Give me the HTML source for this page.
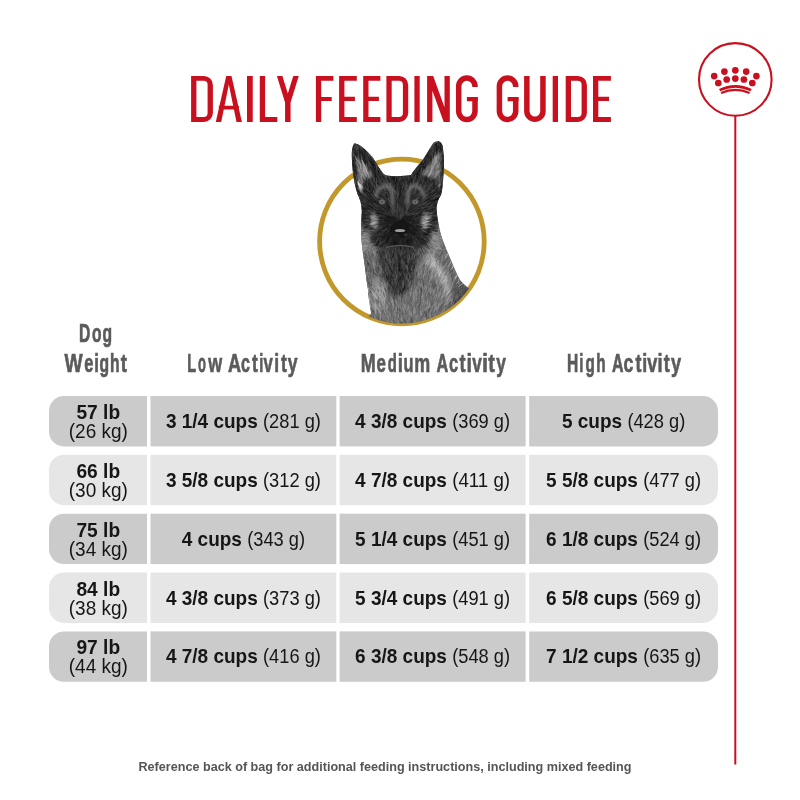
<!DOCTYPE html>
<html><head><meta charset="utf-8"><style>
html,body{margin:0;padding:0;background:#fff;}
svg{display:block;will-change:transform;}
text{font-family:"Liberation Sans", sans-serif;}
</style></head><body>
<svg width="800" height="800" viewBox="0 0 800 800">
<rect width="800" height="800" fill="#fff"/>
<path fill="#c9101f" d="M191.10,75.90H203.90A9.0,9.0 0 0 1 212.90,84.90V112.90A9.0,9.0 0 0 1 203.90,121.90H191.10ZM196.40,80.75V117.05H203.60A4.0,4.0 0 0 0 207.60,113.05V84.75A4.0,4.0 0 0 0 203.60,80.75ZM215.80,121.90L226.23,75.90H231.48L241.90,121.90H236.50L228.85,84.40L221.20,121.90ZM218.80,105.70h20.10v3.90h-20.10ZM247.00,75.90h5.75v46.00h-5.75ZM259.80,75.90h5.30v46.00h-5.30ZM259.80,117.05h17.50v4.85h-17.50ZM276.90,75.90H282.40L290.57,102.50H285.07ZM293.25,75.90H298.75L290.57,102.50H285.07ZM285.07,102.00h5.50v19.90h-5.50ZM315.90,75.90h5.30v46.00h-5.30ZM315.90,75.90h17.50v4.85h-17.50ZM315.90,96.90h15.80v4.20h-15.80ZM339.10,75.90h5.30v46.00h-5.30ZM339.10,75.90h17.70v4.85h-17.70ZM339.10,96.70h15.80v4.20h-15.80ZM339.10,117.05h17.70v4.85h-17.70ZM363.20,75.90h5.30v46.00h-5.30ZM363.20,75.90h17.20v4.85h-17.20ZM363.20,96.70h15.70v4.20h-15.70ZM363.20,117.05h17.20v4.85h-17.20ZM386.40,75.90H399.20A9.0,9.0 0 0 1 408.20,84.90V112.90A9.0,9.0 0 0 1 399.20,121.90H386.40ZM391.70,80.75V117.05H398.90A4.0,4.0 0 0 0 402.90,113.05V84.75A4.0,4.0 0 0 0 398.90,80.75ZM414.40,75.90h5.30v46.00h-5.30ZM427.10,75.90h5.30v46.00h-5.30ZM444.50,75.90h5.30v46.00h-5.30ZM427.10,75.90H433.20L449.80,121.90H443.70ZM466.90,96.90h10.90v4.40h-10.90ZM507.60,96.90h10.90v4.40h-10.90ZM552.70,75.90h5.30v46.00h-5.30ZM565.70,75.90H577.90A9.0,9.0 0 0 1 586.90,84.90V112.90A9.0,9.0 0 0 1 577.90,121.90H565.70ZM571.00,80.75V117.05H577.60A4.0,4.0 0 0 0 581.60,113.05V84.75A4.0,4.0 0 0 0 577.60,80.75ZM593.00,75.90h5.30v46.00h-5.30ZM593.00,75.90h17.90v4.85h-17.90ZM593.00,96.70h16.00v4.20h-16.00ZM593.00,117.05h17.90v4.85h-17.90Z"/><path fill="none" stroke="#c9101f" stroke-width="5.5" d="M475.00,86.90V86.25A8.15,8.15 0 0 0 466.85,78.10A8.15,8.15 0 0 0 458.70,86.25V111.35A8.15,8.15 0 0 0 466.85,119.50A8.15,8.15 0 0 0 475.00,111.35V96.90M515.70,86.90V86.25A8.15,8.15 0 0 0 507.55,78.10A8.15,8.15 0 0 0 499.40,86.25V111.35A8.15,8.15 0 0 0 507.55,119.50A8.15,8.15 0 0 0 515.70,111.35V96.90M526.85,75.90V111.20A8.05,8.05 0 0 0 534.90,119.25A8.05,8.05 0 0 0 542.95,111.20V75.90"/>

<line x1="735.3" y1="115" x2="735.3" y2="764.6" stroke="#c9101f" stroke-width="2"/>
<circle cx="735.3" cy="79.45" r="36.3" fill="#fff" stroke="#c9101f" stroke-width="2.1"/>
<g fill="#c9101f">
<circle cx="714.2" cy="76.1" r="3.35"/><circle cx="724.4" cy="71.6" r="3.35"/><circle cx="735.3" cy="70.3" r="3.35"/><circle cx="746.2" cy="71.6" r="3.35"/><circle cx="756.4" cy="76.1" r="3.35"/>
<circle cx="718.3" cy="83" r="3.35"/><circle cx="726.7" cy="79.5" r="3.35"/><circle cx="735.3" cy="78.6" r="3.35"/><circle cx="743.9" cy="79.5" r="3.35"/><circle cx="752.3" cy="83" r="3.35"/>
</g>
<path d="M719.6,90.2 Q735.4,82.5 751.1,90.2" fill="none" stroke="#c9101f" stroke-width="2.6"/>
<path d="M721.1,93.0 Q735.4,86.8 749.6,93.0" fill="none" stroke="#c9101f" stroke-width="2.1"/>

<defs>
<clipPath id="ringclip"><path d="M300,100 H483.9 V241.5 A82,82 0 0 1 319.9,241.5 V100 Z"/></clipPath>
<clipPath id="dogclip"><path d="M354.6,143.2 C358,144 360,145 362.9,147.4 C366,150 370,154 372.5,157 C376,162 379,168 382.1,172.1 C383,174 385,175 386.3,175.6 C390,176.2 394,176.3 397.3,176.3 C402,176.2 407,175.5 411,175 C414,170 418,165 422,161 C426,155 430,148 433,143.2 C435,141.5 437,141 438.5,141.2 C441,142 442,144 442.6,146 C443.5,152 444,158 444,162.5 C444,168 443.8,172 443.3,176.2 C443,183 442.5,190 441,195 C438,199 436.5,204 436.5,210 C437.5,220 439.5,230 442,238 C445,246 448,253 450.8,259.5 C454,267 457,275 460.5,280.6 C462.5,283 465,285.5 467,287 L490,300 L490,340 L350,340 L371.1,313.1 C369.5,305 368.5,297 367.9,288.8 C366.5,280 365.5,272 364.6,264.4 C363.5,256 362,248 361.4,240 C360.8,231 361,221 361.8,211 C361.5,204 360,199 357.5,194 C355,186 353.2,177 352.6,169.4 C352,163 351.6,157 351.9,151.5 C352.2,148 353,145 354.6,143.2 Z"/></clipPath>
<filter id="bl1" x="-50%" y="-50%" width="200%" height="200%"><feGaussianBlur stdDeviation="1.2"/></filter>
<filter id="bl2" x="-50%" y="-50%" width="200%" height="200%"><feGaussianBlur stdDeviation="2.5"/></filter>
<filter id="bl2s" x="-50%" y="-50%" width="200%" height="200%"><feGaussianBlur stdDeviation="1.6"/></filter>
<filter id="bl05" x="-50%" y="-50%" width="200%" height="200%"><feGaussianBlur stdDeviation="0.6"/></filter>
</defs>
<circle cx="401.9" cy="241.5" r="82.3" fill="none" stroke="#c3982b" stroke-width="4.8"/>
<g clip-path="url(#ringclip)">
<g clip-path="url(#dogclip)">
<rect x="340" y="130" width="150" height="210" fill="#6e6e6e"/>
<path d="M355,235 C362,250 372,262 380,275 L372,300 L355,300 Z" fill="#5e5e5e" filter="url(#bl2)"/>
<!-- ears dark -->
<path d="M350,138 L366,149 L388,178 L372,186 L362,202 L347,192 Z" fill="#2a2a2a" filter="url(#bl1)"/>
<path d="M446,136 L432,145 L408,178 L428,186 L440,202 L449,190 Z" fill="#2a2a2a" filter="url(#bl1)"/>
<!-- ear interiors -->
<path d="M357,157 C362,163 369,170 374,177 C371,182 367,187 362,191 C359,181 357,170 357,157 Z" fill="#7c7c7c" filter="url(#bl1)"/>
<path d="M440,151 C440,164 440,177 439,189 C433,185 427,180 421,175 C427,167 434,159 440,151 Z" fill="#7c7c7c" filter="url(#bl1)"/>
<path d="M357,182 C359,188 361,193 364,197 L370,192 C366,188 361,184 357,182 Z" fill="#d4d4d4" filter="url(#bl05)"/>
<path d="M441,183 C439,189 437,193 434,197 L428,192 C433,188 437,185 441,183 Z" fill="#d4d4d4" filter="url(#bl05)"/>
<path d="M362,160 C365,168 368,174 370,180" stroke="#a8a8a8" stroke-width="1.2" fill="none" filter="url(#bl05)"/>
<path d="M437,158 C434,166 431,172 428,178" stroke="#a8a8a8" stroke-width="1.2" fill="none" filter="url(#bl05)"/>
<!-- head dark base -->
<path d="M364,180 C380,173 420,173 438,180 C441,196 441,212 438,226 C434,240 422,252 400,253 C378,252 366,240 362,226 C359,212 361,196 364,180 Z" fill="#2c2c2c" filter="url(#bl1)"/>
<!-- lower head sides whitish -->
<ellipse cx="366" cy="240" rx="5" ry="11" fill="#8e8e8e" filter="url(#bl2)"/>
<ellipse cx="435" cy="240" rx="5" ry="11" fill="#8e8e8e" filter="url(#bl2)"/>
<!-- cheeks tan -->
<ellipse cx="374.5" cy="221" rx="3.2" ry="9" fill="#969696" transform="rotate(-8 374.5 221)" filter="url(#bl1)"/>
<ellipse cx="424.5" cy="221" rx="3.2" ry="9" fill="#969696" transform="rotate(8 424.5 221)" filter="url(#bl1)"/>
<!-- nose bridge -->
<path d="M393,205 C394,212 393,218 391,224" stroke="#555" stroke-width="2" fill="none" filter="url(#bl1)"/>
<path d="M407,205 C406,212 407,218 409,224" stroke="#555" stroke-width="2" fill="none" filter="url(#bl1)"/>
<!-- muzzle darkest -->
<path d="M388,216 C395,214 405,214 412,216 C416,226 417,236 414,243 C410,247 390,247 386,243 C383,236 384,226 388,216 Z" fill="#1a1a1a" filter="url(#bl1)"/>
<ellipse cx="400" cy="213" rx="4.5" ry="6" fill="#3c3c3c" filter="url(#bl1)"/>
<!-- center forehead stripe -->
<path d="M400,178 V204" stroke="#161616" stroke-width="4" filter="url(#bl1)"/>
<!-- neck dark center -->
<path d="M378,248 C376,262 382,280 390,294 C398,300 410,292 414,276 C418,262 420,252 420,248 Z" fill="#383838" filter="url(#bl2)"/>
<!-- neck light right streak -->
<path d="M424,258 C436,270 444,284 450,302 L457,298 C451,282 443,266 431,252 Z" fill="#ababab" filter="url(#bl2)"/>
<ellipse cx="378" cy="295" rx="8" ry="18" fill="#8c8c8c" filter="url(#bl2)"/>
<path d="M454,280 L472,288 L472,330 L448,330 Z" fill="#505050" filter="url(#bl2)"/>
<g stroke-linecap="round" fill="none" stroke-width="0.7" clip-path="url(#dogclip)">
<path stroke="rgb(6,6,6)" stroke-opacity="0.65" d="M379.5 242.5L376.6 246.0M366.9 194.4L363.3 190.1M378.3 183.1L377.6 178.3M380.1 174.4L378.7 171.6M383.5 211.6L379.4 210.6M435.4 147.7L435.9 144.4M407.3 258.5L406.5 264.1M436.7 194.4L438.4 192.0M396.0 225.3L391.7 229.3M364.1 186.0L364.2 183.3M366.1 162.4L363.8 157.1M369.3 189.1L368.0 186.7M421.6 176.9L422.2 171.2M398.2 180.9L397.5 177.3M366.4 208.9L363.4 207.3M357.6 153.3L357.1 150.6M410.8 236.0L412.0 239.7M421.3 164.5L423.8 160.0M394.9 193.8L393.9 190.7M367.9 156.0L367.6 151.5M368.1 207.8L365.3 205.9M396.7 280.7L398.6 286.1M426.9 231.7L430.9 231.8M355.0 171.1L354.5 168.5M370.1 163.7L370.2 160.1M400.7 186.3L399.8 182.0M420.5 234.5L423.3 235.9M426.8 186.3L428.4 183.6M437.1 199.9L440.3 199.1M362.2 219.9L356.6 218.4M379.3 231.3L376.6 231.8M364.4 212.1L359.8 209.1M424.1 233.2L427.2 235.0M373.9 168.4L372.8 164.2M371.0 196.3L367.6 194.6M401.1 268.9L402.6 274.4M399.2 268.1L398.8 270.6M416.3 237.0L419.1 240.4M427.3 180.4L429.1 177.4M373.6 206.6L371.2 206.0M362.2 155.4L361.9 151.5M379.8 241.4L378.4 244.2M408.7 184.7L410.7 179.0M423.4 164.7L425.3 161.3M380.3 230.9L377.8 231.7M425.5 242.9L428.7 247.9M386.0 192.6L383.2 189.3M414.3 233.5L416.6 234.9M431.9 183.3L433.4 180.3M395.8 268.4L395.1 274.1M429.8 184.9L430.4 181.3M376.4 177.8L374.9 172.6M397.6 278.7L399.0 284.0M403.5 234.4L404.1 238.2M378.9 175.0L376.5 171.3M387.8 239.1L385.6 243.5M413.6 219.0L417.5 216.9M364.1 207.6L360.7 206.1M407.3 238.9L407.8 244.4M399.6 270.5L401.8 275.8M391.1 284.2L390.5 288.2M399.6 227.0L400.8 231.4M391.9 224.2L387.5 226.6M417.3 182.2L419.0 178.5M434.2 219.9L436.8 220.3M420.3 212.8L423.3 210.1M393.4 180.8L393.1 175.6M357.0 151.1L354.9 147.9M425.4 161.0L425.8 156.5M371.7 230.6L368.6 232.6M359.3 154.7L359.2 150.0M416.8 178.3L417.6 173.2M353.7 167.2L351.8 161.9M378.7 235.4L375.0 239.0M401.7 273.3L401.2 276.5M394.5 184.9L393.2 179.2M374.0 192.5L370.8 190.2M379.6 169.4L378.5 163.6M422.3 240.6L425.8 242.8M383.6 236.8L381.1 240.4M429.1 217.7L434.6 216.6M391.7 276.7L393.6 281.2M399.9 243.9L400.5 249.3M397.6 182.7L397.9 178.5M386.5 273.1L386.5 278.5M408.3 211.9L410.1 209.0M430.2 193.7L433.0 191.8M402.7 176.1L404.6 171.1M397.8 265.6L399.8 270.9M360.3 195.6L355.6 193.2M372.5 180.5L372.0 175.6M411.0 183.0L411.8 178.8M380.1 197.1L378.6 193.6M414.2 228.7L417.4 231.7M367.1 227.5L363.2 228.1M401.1 271.6L402.5 275.9M394.5 217.7L390.9 214.3M388.9 235.7L387.6 238.9M384.9 208.5L382.7 207.3M414.6 235.0L419.1 237.4M381.2 218.8L377.3 219.3M379.8 178.7L379.9 175.2M433.3 189.4L435.4 185.0M376.7 202.1L372.2 199.9M392.2 233.8L389.1 237.6M391.2 241.3L389.7 246.9M431.6 222.0L435.3 222.9M427.0 158.9L428.7 154.9M414.8 223.6L418.5 224.1M433.7 212.3L436.9 210.3M440.8 151.0L440.4 145.9M377.8 180.7L375.2 175.7M419.5 165.5L421.1 162.8M434.4 193.8L438.5 191.2M398.8 254.6L399.2 260.4M378.0 175.6L375.6 172.0M375.9 179.5L375.3 176.4M354.9 150.4L352.5 145.6M396.0 232.1L395.5 235.8M369.7 202.5L366.1 200.0M375.3 238.8L370.8 242.2M418.7 175.4L419.0 172.7M358.9 192.3L355.2 188.2M354.6 176.9L351.8 173.3M429.9 194.6L434.1 192.6M395.9 184.0L395.1 178.2M386.2 268.2L387.0 273.3M398.7 194.0L400.2 189.3M406.2 252.4L406.1 255.0M440.0 194.8L444.0 190.6M379.9 241.4L375.2 245.0M359.9 191.4L355.7 189.4M422.1 231.1L426.2 232.0M435.6 150.4L437.1 146.6M386.5 197.3L385.0 191.7M378.2 234.5L374.9 236.0M390.2 176.1L388.1 172.5M409.5 245.5L410.3 249.8M408.9 225.0L412.9 225.5M390.9 275.1L392.5 279.2M420.5 241.3L423.0 242.6M421.5 209.8L425.0 207.3M400.6 176.5L401.4 171.1M396.0 183.0L397.0 178.4M373.1 237.1L369.4 238.4M443.4 164.7L444.6 162.1M370.3 198.8L368.3 196.3M359.2 193.4L354.0 190.8M411.4 216.2L416.2 214.2M393.9 228.1L389.6 231.2M442.6 158.9L443.2 155.5M435.0 199.8L438.2 198.3M426.6 229.1L429.7 230.5M441.7 189.8L442.2 186.9M376.8 199.9L373.6 195.5M431.4 201.6L434.8 200.3M373.1 165.1L373.0 161.4M374.5 169.7L374.1 164.7M356.5 156.4L354.7 152.5M394.7 273.0L394.9 278.7M432.5 182.5L432.6 177.5M359.7 150.6L359.7 147.1M390.8 208.8L389.5 206.1M400.3 177.4L400.9 172.3M435.8 185.6L438.6 181.6M394.4 240.7L393.4 245.7M441.3 188.4L444.3 183.2M424.7 202.3L427.8 199.2M410.0 229.9L412.2 231.8M440.1 148.3L442.0 144.5M437.0 187.4L437.8 183.9M378.5 186.2L376.9 180.7M386.3 220.1L381.4 221.1M397.1 202.7L394.7 197.6M404.3 242.2L404.8 244.7M380.6 204.8L378.4 202.9M433.0 193.8L436.1 191.5M376.0 181.4L376.1 178.7M356.1 176.9L353.4 172.9M375.4 235.3L372.7 236.2M370.6 200.0L367.9 197.6M379.6 170.6L379.3 167.7M396.5 178.3L396.1 173.3M400.8 244.3L400.0 249.4M393.2 247.3L391.8 252.6M373.5 199.7L370.7 198.1M401.9 189.4L402.0 184.6M363.1 224.6L360.1 224.4M436.5 152.8L436.9 148.9M364.9 191.2L361.5 189.3M374.0 184.7L371.1 179.6M420.2 199.9L421.8 197.0M419.9 178.5L420.3 175.5M371.4 201.7L368.6 200.4M405.4 187.2L405.2 183.3M431.7 217.2L437.2 216.7M392.6 217.1L388.7 215.8M371.6 159.7L369.8 156.2M414.0 175.8L416.0 171.5M375.3 241.4L371.1 243.0M372.1 203.2L368.7 201.9M388.5 274.1L387.6 279.8M367.4 189.2L367.0 186.6M415.6 181.0L416.9 177.7M389.6 240.2L387.9 242.2M385.0 259.9L386.5 262.4M353.8 161.8L353.7 156.5M387.2 196.3L386.2 193.5M423.3 233.6L428.8 235.0M400.4 185.6L399.9 181.1M362.4 207.5L359.8 205.5M379.2 239.9L376.3 244.6M365.5 208.2L360.1 207.9M436.6 225.5L439.7 225.8M427.4 185.1L427.8 182.2M372.5 207.6L367.5 205.6M381.0 179.9L380.1 176.0M432.5 220.3L437.1 218.4M399.1 218.9L399.2 213.1M389.4 264.8L390.7 267.9M377.9 211.0L372.8 209.2M437.7 199.0L442.0 195.3M396.4 262.4L396.0 268.3M369.8 194.1L366.4 190.3M364.4 214.8L359.2 214.3M368.3 201.1L365.8 200.3M421.8 229.7L425.0 229.9M433.2 220.4L436.5 219.1M396.0 268.5L395.6 274.1M441.0 148.9L442.9 144.9M433.8 201.0L438.3 198.2M366.8 197.8L363.2 194.7M362.7 201.4L359.6 197.9M400.1 269.7L399.4 273.9M386.7 192.1L384.3 189.2M358.7 147.6L357.0 144.3M407.3 178.5L407.2 174.2M401.7 220.3L404.3 215.3M393.0 250.3L392.6 255.9M436.1 217.8L441.7 216.5M419.5 215.2L422.8 213.9M372.2 200.5L368.8 198.8M419.3 171.3L421.3 166.2M380.2 172.1L378.6 167.9M368.0 196.9L365.1 195.9M432.6 186.6L434.7 182.0M365.5 216.2L362.9 216.0M425.8 202.4L431.4 200.4M422.7 170.4L425.6 165.3M378.9 203.8L375.8 201.3M369.0 186.0L368.7 181.7M432.7 151.1L433.9 148.2M382.0 221.1L379.7 220.1M393.3 187.2L392.5 184.4M421.4 203.6L423.7 200.2M378.4 213.4L375.7 213.1M367.0 225.7L363.9 226.7M404.0 248.6L403.9 251.4M431.4 218.3L435.0 218.0M408.2 237.7L410.2 242.7M408.9 264.6L408.0 269.7M426.4 161.0L428.7 155.8M408.0 182.9L408.1 179.7M365.0 218.0L361.5 217.8M373.2 165.4L371.6 162.3M388.4 217.0L384.7 215.3M420.6 242.0L422.8 244.4M398.3 202.8L396.8 199.4M406.6 182.3L405.8 177.6M418.8 225.8L422.5 227.5M392.9 257.6L394.0 260.2M364.0 203.5L360.9 203.1M400.4 191.7L400.4 188.1M401.9 176.0L402.2 173.0M426.7 207.3L431.0 204.3M420.1 180.6L422.5 175.7M394.5 277.7L394.4 283.4M364.1 197.1L360.4 194.5M386.4 194.1L384.0 191.7M376.7 176.6L374.5 171.5M385.2 233.9L382.4 237.9M400.7 236.6L400.1 240.1M370.3 206.0L366.2 203.9M413.7 216.4L417.4 216.2M420.6 216.1L423.5 215.7M399.8 265.6L400.1 269.3M412.9 219.0L418.1 217.3M399.7 198.1L399.7 194.7M434.3 202.3L437.6 201.6M354.8 162.4L354.4 158.2M421.0 183.5L421.3 180.4M376.8 244.4L373.9 246.1M411.3 263.6L411.5 267.6M441.3 147.9L443.0 143.3M370.0 189.5L367.0 185.0M365.3 211.8L361.7 210.3M373.8 180.1L372.8 176.6M377.4 203.3L374.9 199.8M417.3 233.6L421.2 235.2M402.8 183.0L402.9 180.2M421.8 203.1L424.7 199.9M364.7 155.3L363.2 150.4M420.2 209.5L424.5 208.3M374.8 171.5L374.9 168.2M377.4 184.9L377.6 179.7M362.4 220.4L358.0 219.2M389.8 209.3L386.3 206.4M381.5 240.3L379.5 242.4M384.4 193.4L382.4 190.8M404.8 211.0L406.3 206.5M369.6 205.9L365.0 203.9M383.4 241.4L381.9 244.0M416.9 176.7L417.1 171.9M425.7 157.2L426.3 152.8M421.9 168.1L422.1 162.5M380.0 176.3L378.4 171.2M392.5 253.6L392.5 257.0M428.5 199.6L432.1 197.7M409.0 210.5L411.8 207.8M376.3 166.7L376.4 163.3M383.7 230.7L380.8 233.9M367.3 181.8L366.4 177.6M436.0 190.1L437.8 188.1M375.0 182.4L372.5 178.7M400.2 278.3L399.2 282.5M387.1 181.3L386.7 177.1M421.8 238.7L425.2 241.7M437.1 194.4L440.7 191.4M412.4 173.5L412.9 168.3M365.2 197.9L361.4 193.6M426.6 211.6L430.6 211.4M419.6 207.9L425.1 205.7M372.9 203.2L369.0 200.6M363.1 223.2L358.6 224.4M396.1 241.8L395.3 247.3M374.2 183.8L372.2 179.4M383.5 243.5L380.7 246.5M377.2 215.4L372.0 214.7M407.5 224.3L410.2 224.2M369.1 197.0L364.7 193.6M380.3 214.4L376.3 211.1M379.6 243.5L377.3 245.6M422.8 202.5L426.2 201.0M391.7 257.6L392.8 260.9M436.1 205.5L438.8 203.0M429.2 151.4L430.2 148.3M413.5 175.2L415.1 171.3M425.2 208.3L430.6 207.4M387.1 203.8L384.3 199.4M368.8 208.9L363.9 207.7M406.7 253.6L407.3 256.2M411.2 232.4L414.0 237.0M363.8 213.3L358.9 210.2M417.3 237.0L420.0 239.0M375.5 169.0L373.6 164.3M423.8 180.3L426.6 176.0M392.5 256.5L391.9 260.6M367.1 192.5L363.8 187.6M402.0 234.6L402.9 237.3M393.5 229.5L390.0 233.0M424.8 203.7L429.4 202.1M371.9 198.0L368.8 195.3M413.4 193.5L414.4 187.8M419.3 166.8L421.4 161.7M385.6 218.5L380.2 217.5M360.8 157.8L360.4 151.9M426.8 164.4L427.4 160.4M353.8 152.8L351.8 149.5M373.0 189.8L371.7 186.9M404.6 258.9L405.5 263.3M389.7 266.6L389.9 269.2M354.8 167.6L353.2 165.0M359.4 196.3L357.2 194.6M414.5 252.2L415.3 257.7M412.1 238.7L415.9 241.4M354.1 146.4L353.1 142.0M438.0 143.9L439.3 140.6M395.4 184.8L396.4 178.9M389.3 207.7L387.7 203.6M353.1 146.5L353.1 143.3M441.4 145.0L443.1 140.6M434.6 187.2L435.2 182.5M385.4 236.0L383.1 237.2M395.5 269.5L394.9 272.0M413.5 191.2L415.2 187.6M415.7 225.8L419.4 228.2M384.1 192.3L383.2 189.4M389.5 194.8L386.7 191.0M363.6 216.8L359.6 215.1M367.8 185.5L367.6 180.5M430.2 202.4L432.3 199.8M429.6 216.5L432.6 215.6M400.7 195.3L401.1 189.7M397.4 183.4L396.8 180.5M400.7 264.3L401.4 267.8M407.3 261.7L406.8 266.7M431.7 216.0L434.5 215.9M361.0 151.6L358.8 147.7M423.9 170.8L423.8 165.9M388.5 179.3L386.1 175.4M389.4 248.2L388.9 253.1M388.5 220.7L385.2 219.6M399.1 263.0L398.8 266.7M390.5 182.4L387.6 177.7M426.2 179.0L426.8 176.6M436.8 146.2L436.9 143.5M377.1 241.3L375.1 244.4M373.9 166.6L371.6 162.0M374.8 162.7L373.0 159.7M364.0 157.4L362.6 155.0M376.2 204.0L371.8 201.4M420.5 178.5L421.2 175.9M378.1 246.2L376.4 249.2M415.0 193.6L418.4 190.0M437.5 145.6L439.3 140.4M361.8 158.0L359.6 153.5M434.7 213.9L439.4 211.5M443.9 171.7L444.9 168.5M392.1 181.5L392.4 177.7M401.7 221.5L405.6 220.1M411.4 230.5L414.6 232.6M430.5 217.8L435.4 217.4M435.1 144.3L434.7 140.3M395.0 177.7L395.0 172.4M380.4 236.3L375.8 239.6M358.5 155.2L358.0 150.4M418.2 192.9L419.9 189.3M417.5 210.5L421.1 208.5M384.8 227.8L382.1 228.5M364.5 195.2L362.2 193.2M404.9 248.0L404.7 253.0M392.0 253.0L393.6 256.3M364.5 210.3L359.5 209.0M425.7 181.6L425.9 177.3"/>
<path stroke="rgb(18,18,18)" stroke-opacity="0.65" d="M388.6 210.4L384.5 208.4M410.4 181.2L410.3 176.9M426.8 157.8L427.5 155.4M431.9 227.9L436.8 230.0M427.1 238.9L430.4 241.6M366.2 214.5L361.9 214.5M420.9 226.4L425.3 226.4M411.3 270.7L411.3 274.8M368.4 197.9L364.9 195.3M415.0 189.4L415.7 186.9M407.7 258.7L407.1 262.7M398.0 277.0L398.0 281.9M378.3 217.8L374.7 218.2M412.3 175.3L413.8 171.6M435.9 199.9L440.8 196.4M358.0 185.9L357.1 183.2M388.4 281.4L389.4 285.2M409.8 274.5L408.7 280.3M397.0 293.2L396.9 297.4M401.8 254.7L401.1 257.3M438.0 143.9L438.7 140.5M376.2 183.9L375.5 180.9M369.3 165.3L368.2 162.8M394.7 281.4L393.8 285.6M409.5 263.8L410.3 267.4M410.2 175.4L409.7 171.5M384.6 223.6L380.3 224.1M415.9 265.3L416.4 269.7M433.9 182.2L435.0 178.6M395.4 193.2L393.8 189.2M403.7 288.3L402.1 293.7M371.1 201.1L366.3 199.7M376.8 239.1L372.1 242.9M365.8 198.6L363.5 196.6M391.3 268.8L392.4 272.6M418.1 171.2L420.2 167.6M425.7 210.1L428.7 209.4M396.3 270.0L396.6 273.0M414.5 189.2L415.1 184.1M373.2 176.2L372.7 170.7M367.1 165.6L365.6 163.4M413.0 173.3L412.8 169.0M428.3 163.7L429.6 159.6M395.3 280.4L396.7 283.5M378.4 199.0L375.1 194.7M385.6 190.4L384.2 187.6M413.5 211.9L415.5 209.4M432.9 210.1L437.1 209.7M401.1 290.1L400.6 293.1M426.0 211.9L429.2 209.8M387.2 269.1L388.3 273.0M425.2 232.4L428.0 233.9M391.4 251.9L390.6 257.4M396.2 282.4L397.9 288.1M407.4 187.4L408.8 185.0M406.9 179.7L408.2 174.4M356.4 177.5L354.5 174.9M433.5 205.0L439.1 202.8M424.6 243.7L429.1 247.5M423.7 204.8L426.0 203.5M397.3 284.2L396.9 286.7M428.1 225.8L432.3 226.0M356.9 169.7L356.0 166.6M389.9 200.5L388.5 196.2M410.5 196.3L412.6 191.8M441.0 183.7L441.2 180.7M434.7 147.4L436.2 143.4M418.6 185.8L418.7 182.8M428.6 190.4L431.4 185.5M411.1 243.5L412.1 246.2M395.3 288.6L396.5 291.6M428.5 210.5L433.8 208.9M408.1 182.8L408.8 178.7M409.4 269.3L410.3 274.6M393.9 183.8L394.8 178.3M354.5 170.2L353.8 166.5M416.5 229.7L420.8 230.1M410.3 212.7L412.8 211.7M424.2 245.9L428.7 249.0M430.7 161.4L432.1 155.7M407.6 259.3L406.6 261.9M401.9 274.9L401.8 279.7M390.7 268.5L391.6 273.8M412.3 264.9L412.9 268.7M411.2 271.9L411.5 274.9M425.9 205.9L429.6 204.9M369.4 167.5L368.1 165.3M395.6 190.3L396.0 185.6M415.3 182.2L416.8 177.0M428.7 153.8L429.7 149.2M420.4 227.3L424.1 228.9M432.3 213.5L437.3 213.4M398.2 246.8L397.2 249.8M412.2 182.6L413.9 176.9M369.9 226.0L365.5 226.5M371.1 160.7L370.3 156.0M406.4 176.3L406.0 170.9M383.7 263.9L387.0 269.0M442.3 160.6L443.8 155.7M436.8 189.7L436.5 186.1M380.6 197.5L376.9 193.5M399.0 264.7L400.6 268.8M369.7 217.2L366.4 215.8M428.2 183.1L429.2 180.3M416.9 219.2L419.2 218.0M394.6 290.3L394.6 294.3M356.0 156.3L355.3 153.0M375.2 233.6L370.8 235.1M432.4 229.4L436.1 231.4M393.5 275.6L393.7 278.7M422.1 239.1L425.2 242.0M400.7 219.5L401.8 217.0M363.1 203.7L359.0 200.8M353.5 161.8L352.1 159.7M363.1 223.8L360.4 223.2M442.9 168.9L444.8 165.6M421.0 205.5L423.8 204.1M374.8 166.7L374.2 160.9M372.7 232.8L369.7 233.3M423.4 166.6L424.4 163.3M416.1 263.3L414.8 267.2M405.9 254.8L405.8 260.1M414.3 193.9L414.8 190.4M414.8 224.8L417.7 225.7M385.0 270.6L386.1 275.4M435.5 220.7L440.9 219.1M399.3 274.1L400.9 279.3M400.8 268.7L402.3 273.6M408.8 275.3L408.3 279.4M439.1 145.4L440.0 140.6M410.8 254.0L411.0 258.4M374.9 170.9L373.7 165.4M380.0 214.0L375.5 211.2M386.9 191.7L385.6 186.5M365.4 192.1L362.9 190.7M390.8 204.0L388.5 198.8M383.4 192.1L380.5 189.2M427.4 153.6L428.1 148.5M370.1 220.5L366.0 220.7M368.9 188.8L368.6 184.1M415.7 169.4L417.6 166.0M369.2 196.5L364.6 193.1M437.5 185.2L438.0 181.2M379.8 203.4L375.1 200.6M410.1 196.6L411.9 192.1M383.2 273.7L383.6 276.8M430.0 201.6L432.3 200.0M400.2 194.0L399.0 190.8M391.4 280.1L392.7 282.7M393.2 280.8L393.0 283.9M364.6 188.2L363.9 183.8M382.3 251.0L384.4 254.4M443.4 162.1L445.3 156.9M383.2 177.9L381.2 172.4M373.6 180.6L372.1 177.1M374.4 236.1L369.5 238.4M372.7 202.0L368.9 199.0M427.3 193.8L431.4 191.2M383.9 264.3L384.4 268.6M379.8 253.2L381.1 256.1M431.8 157.4L432.9 153.7M389.2 282.3L390.9 285.6M391.5 280.8L390.5 286.3M425.9 238.3L428.2 240.1M403.1 254.2L402.8 258.5M403.3 287.5L403.4 290.7M384.3 255.7L385.4 258.8M405.0 179.6L404.8 175.8M400.9 182.6L399.3 177.7M421.5 162.7L422.6 159.1M431.2 229.9L436.6 231.7M396.7 190.4L395.6 188.0M429.3 188.0L432.3 182.9M400.8 177.5L401.7 175.0M392.0 282.3L393.1 288.1M403.3 250.4L404.8 255.2M417.3 184.9L417.9 181.2M365.4 208.2L359.6 207.8M377.6 201.0L374.7 198.2M381.2 174.8L380.9 171.2M387.2 213.0L384.7 211.9M399.3 176.8L399.2 174.1M378.5 224.5L372.6 224.9M429.0 228.8L432.9 228.5M419.5 214.2L422.4 213.7M430.0 200.3L433.5 199.1M420.1 230.1L423.6 232.7M396.0 185.2L396.2 182.3M430.4 178.9L430.9 175.2M407.6 186.4L408.0 183.9M436.8 151.2L439.2 145.9M374.9 189.9L372.8 186.2M398.9 215.7L398.5 210.6M443.9 162.0L443.9 158.9M380.6 177.4L378.4 174.4M410.6 207.8L413.0 202.6M354.9 147.1L352.7 143.3M427.3 204.3L431.7 201.6M366.7 210.2L364.1 209.2M427.3 156.4L427.8 152.3M408.1 264.5L406.1 269.3M417.5 173.4L419.0 170.9M399.5 261.3L399.2 265.8M364.7 162.9L363.5 160.2M375.0 200.1L370.7 196.6M403.2 190.7L404.1 187.8M413.8 263.6L414.0 267.0M366.9 188.7L366.6 185.5M413.7 221.7L419.0 222.7M422.9 171.0L425.8 166.3M416.9 208.2L420.4 206.8M425.2 189.4L424.7 184.3M434.2 191.6L436.0 189.8M433.3 155.7L433.5 152.4M420.9 164.7L421.3 159.2M423.9 240.2L427.2 241.6M388.9 264.6L390.1 268.7M413.8 180.4L415.0 177.2M410.3 278.1L408.6 282.7M387.9 211.1L385.9 209.1M427.2 232.1L431.0 232.5M430.9 222.7L435.4 222.7M431.3 201.0L435.9 198.1M383.5 214.5L377.8 212.9M429.9 184.6L432.9 180.0M434.6 211.7L437.9 209.5M411.1 179.3L411.3 173.4M429.8 159.5L432.0 156.3M369.6 224.3L364.7 224.1M379.5 208.6L375.1 207.6M427.8 229.6L430.3 229.9M390.2 277.3L390.4 282.7M387.1 205.8L384.0 203.0M432.5 207.8L436.4 205.1M401.3 268.4L400.3 272.7M373.4 194.3L370.1 191.7M390.9 287.5L391.1 291.7M366.5 188.7L365.8 185.3M365.1 218.4L360.2 218.8M403.8 200.8L405.4 195.5M365.5 151.4L364.9 146.5M376.1 207.1L373.2 205.3M428.6 209.9L431.9 207.1M355.0 152.1L353.8 149.4M415.0 176.6L416.8 173.6M356.3 172.2L355.1 168.0M368.6 204.2L365.5 200.9M394.4 185.1L393.2 179.4M375.7 169.0L375.2 163.9M439.6 151.8L439.3 147.3M424.8 211.2L429.4 208.1M370.9 194.4L366.0 191.2M381.8 248.1L379.1 252.0M389.2 195.7L387.4 192.1M375.9 207.7L370.4 205.7M429.0 183.4L430.6 179.0M389.8 261.3L392.0 265.6M394.5 250.1L393.4 255.7M409.8 273.7L408.8 277.8M395.3 244.1L395.4 247.2M383.6 177.8L382.1 172.3M434.6 194.5L438.3 190.3M352.8 152.3L349.8 147.7M426.6 208.6L430.3 205.4M440.1 145.7L441.3 141.6M363.8 195.2L361.1 191.3M355.0 170.1L354.4 165.2M364.1 214.4L359.8 215.0M391.7 270.4L392.2 275.5M441.1 190.4L444.2 188.8M384.4 254.2L385.3 256.6M409.8 273.0L408.8 276.7M355.4 153.4L353.8 150.8M404.5 259.0L404.1 261.7M371.5 172.8L370.3 167.2M434.0 211.3L437.5 210.7M435.4 191.8L438.9 187.0M437.0 146.7L436.8 143.9M413.2 250.6L413.0 254.0M435.8 218.4L441.5 217.5M399.2 249.0L398.1 254.4M433.1 191.5L434.6 189.2M390.3 217.8L385.3 217.0M414.0 179.5L415.6 175.5M414.6 267.1L413.6 269.5M383.0 182.2L383.3 176.6M404.5 288.0L405.1 293.5M415.9 214.3L419.6 212.9M393.8 178.7L394.3 176.3M429.9 226.5L434.6 227.3M384.2 182.6L382.3 179.0M409.9 266.9L410.6 271.0M393.0 261.5L393.5 266.4M434.8 215.1L439.7 215.2M400.6 278.7L399.0 284.3M440.2 147.1L441.4 141.5M353.4 160.8L353.6 156.2M365.5 213.5L362.6 212.2M404.0 285.6L402.1 291.0M394.1 209.8L392.8 205.6M425.8 156.0L426.0 152.0"/>
<path stroke="rgb(30,30,30)" stroke-opacity="0.65" d="M398.5 258.6L399.5 263.1M392.6 204.0L389.2 199.8M360.8 146.2L359.0 143.5M395.1 263.5L394.3 267.3M429.7 235.8L432.1 238.0M390.7 282.9L391.6 286.2M421.3 194.7L422.3 192.1M390.4 289.5L391.9 292.5M404.3 270.3L404.3 274.4M410.9 259.9L412.0 264.1M410.4 198.7L412.8 195.5M421.4 196.8L423.7 192.2M411.8 278.4L412.5 281.5M413.5 251.1L412.1 255.8M380.3 256.2L383.3 260.7M386.4 267.1L387.4 269.9M396.4 290.7L397.0 293.6M391.8 203.6L388.8 199.4M431.2 187.9L431.5 182.9M385.7 258.8L387.4 263.4M391.7 262.5L391.4 265.7M380.0 178.6L378.5 175.6M393.7 273.5L394.4 278.0M420.5 246.5L422.6 251.7M403.0 254.3L402.2 258.6M392.2 253.5L391.8 258.1M378.6 262.5L379.3 265.6M395.3 195.9L393.8 192.4M397.3 262.4L398.7 267.6M371.0 160.7L369.5 156.0M406.1 205.7L408.5 202.3M388.5 254.4L388.0 258.1M378.1 266.8L378.3 271.9M407.0 283.5L407.8 289.4M397.4 253.1L398.1 255.8M405.9 267.1L404.9 269.9M400.6 213.3L400.8 209.1M384.1 183.3L383.0 179.4M394.7 268.2L396.0 270.9M378.7 231.6L374.7 232.0M374.9 201.5L370.0 199.6M368.0 179.6L367.8 175.0M374.3 198.3L372.1 195.5M361.0 159.0L359.2 153.6M393.7 284.9L393.9 288.1M378.4 220.5L373.2 221.0M363.8 199.4L359.1 197.5M377.8 187.2L376.3 182.5M382.3 264.3L382.8 266.9M367.2 225.5L362.2 225.0M402.1 281.4L401.1 285.6M381.3 201.1L379.5 197.3M378.9 249.1L377.0 253.7M370.0 155.6L370.0 152.4M356.1 166.8L355.3 161.1M397.4 251.6L398.1 255.7M396.9 178.2L395.0 172.5M378.9 231.3L374.4 233.0M408.3 275.3L407.8 280.9M416.7 188.1L417.9 185.5M424.5 176.5L426.9 172.3M432.4 154.1L432.3 148.5M459.1 290.2L457.9 293.6M422.4 214.6L427.7 213.8M410.5 253.6L409.5 257.3M410.4 257.1L410.6 262.6M412.9 264.8L413.7 267.7M404.3 267.2L405.9 271.9M401.0 208.3L401.5 204.0M428.0 212.6L433.1 209.4M362.9 199.0L360.2 196.2M365.6 209.4L360.7 208.6M422.1 231.3L425.7 233.7M430.4 195.8L434.8 192.2M412.6 264.3L413.7 269.5M426.0 240.2L429.8 243.5M403.4 287.0L403.1 290.8M412.9 193.3L413.9 190.1M378.4 203.9L374.2 201.8M401.6 256.8L401.5 259.7M401.8 271.1L402.0 276.6M418.4 185.4L419.6 179.6M405.7 268.1L406.6 271.5M437.0 224.4L440.2 223.5M393.0 269.1L394.8 273.6M381.5 246.4L377.7 249.9M442.7 159.3L443.8 154.8M400.4 263.2L398.9 268.6M375.0 167.7L372.6 162.7M379.6 264.6L379.7 267.8M373.3 238.8L369.6 240.8M424.0 195.0L427.1 192.7M404.9 282.4L404.3 287.5M424.5 243.9L426.0 245.9M433.2 227.6L436.3 228.8M405.0 202.9L404.9 198.3M396.4 258.6L398.6 264.1M362.1 215.2L358.9 213.7M392.3 203.2L389.6 198.7M422.9 196.4L425.6 194.4M391.6 276.7L393.4 281.5M397.7 254.6L397.9 258.0M388.5 284.7L389.4 288.7M440.6 180.2L442.4 175.1M391.2 273.6L391.1 277.7M430.5 160.2L432.4 155.3M405.2 270.8L406.2 276.1M376.7 173.9L375.2 170.4M434.0 219.9L438.1 220.6M378.7 229.3L375.4 229.9M385.1 252.1L385.4 254.8M432.2 178.9L433.7 175.6M376.5 164.5L375.1 160.9M377.2 205.1L374.3 203.5M422.6 173.5L422.7 168.5M387.4 183.2L386.3 178.2M436.5 181.0L437.3 175.9M369.7 165.7L368.9 162.5M408.4 188.2L409.8 184.1M398.8 257.0L398.2 260.2M398.4 282.4L399.9 286.6M363.3 196.9L358.1 194.0M373.8 238.5L370.7 240.0M460.3 296.6L457.6 300.2M408.0 282.8L408.8 285.4M378.1 236.6L375.6 238.7M437.0 198.5L439.4 195.9M399.2 292.1L400.3 297.3M387.9 192.3L387.4 189.4M407.4 211.6L408.8 209.2M366.7 195.9L363.1 192.6M440.2 164.5L441.6 159.9M409.7 259.6L408.5 263.6M437.2 142.5L440.4 137.4M437.2 195.8L439.4 193.4M394.9 213.3L393.9 208.9M396.0 268.5L397.6 272.7M440.1 187.7L442.3 183.0M378.3 227.0L374.8 228.5M410.6 279.2L411.7 285.1M404.3 284.9L405.6 289.2M428.5 153.6L429.5 148.9M400.6 288.9L399.5 293.7M372.4 240.5L370.0 241.4M401.4 288.2L402.3 292.4M393.8 294.7L393.7 300.2M418.6 250.7L417.2 253.5M420.6 215.2L423.0 214.0M365.5 162.0L364.7 156.1M399.5 250.1L400.2 253.1M408.0 254.2L407.1 257.2M373.8 161.9L373.3 157.8M405.4 181.6L407.2 176.4M415.2 189.8L416.1 187.0M408.1 280.1L408.6 286.0M379.2 259.8L380.4 262.3M415.0 190.8L417.7 186.4M369.1 226.3L364.7 227.3M403.7 274.1L403.3 279.1M355.6 172.6L355.8 166.8M365.2 150.3L364.3 147.2M417.9 241.1L420.1 244.8M400.4 281.8L400.1 286.3M398.0 269.6L398.9 274.8M375.9 197.4L374.0 195.6M458.1 295.7L456.4 298.8M408.0 266.5L408.9 271.1M432.6 196.6L436.9 195.0M390.1 271.3L390.8 275.1M400.3 258.0L400.8 262.8M396.9 284.6L397.8 287.6M424.5 210.8L428.0 209.5M417.5 168.6L418.4 163.9M425.7 178.4L427.4 173.4M371.3 189.5L371.0 185.1M394.6 194.9L393.5 191.4M426.7 202.1L429.1 198.6M399.9 256.7L399.5 261.1M368.8 154.2L366.4 149.3M460.3 288.9L457.0 292.1M399.7 187.0L398.9 182.3M422.5 208.2L426.3 206.2M387.6 278.4L387.1 281.9M371.8 230.1L366.6 232.7M380.0 192.2L378.1 187.6M390.5 274.5L390.3 278.1M385.0 189.9L383.4 187.4M386.6 265.5L387.1 271.3M462.3 286.8L460.5 290.3M364.6 152.0L364.6 149.4M381.7 176.4L381.0 173.6M455.6 288.0L453.5 290.8M421.3 214.3L424.4 213.8M381.2 268.0L383.1 271.2M414.1 175.5L414.8 171.1M355.9 185.1L353.4 181.5M432.7 178.4L434.1 175.5M401.5 277.3L403.0 281.3M378.8 243.6L377.3 246.2"/>
<path stroke="rgb(42,42,42)" stroke-opacity="0.65" d="M457.2 298.0L455.5 302.7M409.1 273.8L408.0 276.6M413.5 275.4L414.3 281.3M432.3 159.9L432.5 155.9M399.9 275.3L398.7 280.8M397.1 281.5L398.9 286.9M418.5 252.6L417.8 258.2M405.7 232.0L407.9 234.6M378.8 222.6L375.6 223.1M440.0 175.6L440.2 171.5M363.0 186.4L361.7 182.1M392.8 220.4L387.7 220.0M433.7 230.4L437.5 231.4M420.2 224.5L424.4 224.6M409.5 267.8L408.1 273.2M374.7 268.0L376.9 272.7M409.7 204.9L413.2 201.9M437.8 228.1L441.5 227.8M401.9 256.4L400.9 260.3M413.8 223.8L416.4 223.6M396.4 251.0L396.7 255.8M408.1 194.6L408.0 191.4M401.7 267.8L402.6 270.3M413.1 262.1L412.5 267.8M414.0 274.5L412.8 277.4M394.8 226.8L392.8 229.9M407.8 224.2L410.5 225.8M366.2 260.5L368.6 264.1M437.1 154.1L437.5 151.1M430.1 162.0L431.3 157.2M420.6 252.3L418.9 257.0M383.6 186.9L382.2 182.2M421.6 186.6L421.9 184.1M364.7 181.4L361.9 176.8M412.8 277.4L413.7 282.8M397.0 258.3L397.8 262.4M436.7 155.3L437.2 152.6M394.7 293.8L395.1 296.9M392.0 232.0L389.0 236.5M400.4 296.1L401.1 301.5M417.6 254.3L418.2 257.4M401.0 274.7L402.2 278.0M454.1 287.5L450.8 292.3M392.1 194.1L390.8 191.8M380.3 191.3L378.6 189.4M401.5 291.7L402.7 297.2M437.2 187.9L437.0 184.6M417.5 268.6L415.8 274.3M397.3 225.9L394.4 230.6M384.5 273.5L384.4 278.1M414.5 253.0L413.1 257.6M433.3 228.1L437.9 230.8M413.2 266.2L413.5 270.9M397.4 263.8L397.4 266.9M454.0 296.2L453.1 299.6M408.1 287.2L408.5 291.6M397.8 257.8L397.1 261.8M424.7 194.2L427.8 191.6M443.4 173.1L443.9 169.5M406.3 202.3L406.8 199.7M372.3 177.7L372.4 174.3M405.7 207.0L405.8 201.9M424.0 190.1L426.5 185.6M395.1 233.8L392.7 238.2M421.0 195.6L424.4 191.5M395.7 237.1L395.6 240.6M406.6 206.9L409.5 202.8M412.8 257.5L414.0 262.2M361.6 202.8L356.3 201.9M405.4 285.7L405.6 288.5M407.7 279.1L408.0 282.0M371.1 178.6L369.1 174.2M428.7 237.4L431.3 238.4M424.8 176.5L426.1 172.1M416.9 273.7L416.4 278.6M387.0 251.7L388.7 255.0M410.3 193.8L412.5 190.6M399.5 290.3L399.1 293.7M416.9 250.3L417.0 254.6M386.7 186.8L385.8 184.3M417.3 261.3L418.1 266.0M384.2 278.9L384.8 282.2M369.2 267.8L369.6 273.0M371.3 238.5L365.7 240.3M394.5 253.0L394.0 258.4M393.8 296.9L394.8 300.1M456.3 289.8L452.5 293.7M377.5 228.8L372.2 230.8M398.2 274.5L399.9 279.5M433.7 229.4L437.5 230.8M375.8 230.5L373.3 232.0M379.8 268.5L382.8 273.5M399.7 278.2L400.1 280.7M388.3 283.7L388.7 288.4M405.2 192.4L407.3 188.0M382.3 273.3L382.0 277.6M391.9 196.3L391.7 191.0M402.1 286.1L402.7 288.6M414.4 184.5L415.7 181.1M438.5 180.8L439.2 177.2M433.6 144.0L433.5 140.5M436.9 206.3L439.4 206.1M422.2 173.5L423.2 168.2M391.9 257.5L392.0 261.4M459.7 288.8L457.6 290.6M356.2 158.1L355.9 154.6M373.7 228.3L369.3 229.3M366.0 268.6L368.9 273.3M391.2 283.4L391.1 286.1M365.6 257.2L365.9 260.2M429.7 164.0L429.3 159.4M357.5 168.1L355.4 165.1M405.8 263.5L406.8 268.9M384.9 187.1L383.9 182.6M397.1 298.6L398.0 302.5M364.1 181.7L362.4 177.1M379.3 269.9L379.7 274.1M428.9 234.8L433.0 236.4M456.0 292.2L453.6 295.1M370.6 219.1L366.9 219.8M395.8 297.3L398.2 302.8M462.0 284.9L459.6 287.4M379.0 248.4L375.8 253.2M373.6 211.3L369.5 210.2M455.4 295.1L453.3 297.9M406.2 192.8L406.9 187.2M374.4 161.7L371.8 157.0M436.8 226.0L442.4 225.7"/>
<path stroke="rgb(54,54,54)" stroke-opacity="0.65" d="M422.4 216.3L425.8 214.7M362.4 185.0L359.3 180.6M369.9 195.6L367.0 192.4M451.1 301.2L449.2 304.5M434.6 158.1L435.5 155.7M422.6 174.1L422.7 171.4M412.2 308.3L411.1 311.7M439.1 163.1L439.0 158.8M439.2 159.8L440.4 156.7M422.0 285.6L421.1 290.3M452.6 300.7L450.5 302.6M413.6 283.0L413.5 287.3M460.3 294.0L458.7 298.6M401.3 292.3L400.5 296.2M408.7 302.9L409.1 306.4M410.7 190.5L412.7 185.9M418.2 187.6L418.7 184.3M421.8 250.8L420.7 254.2M417.9 289.5L418.3 295.5M389.0 304.9L388.4 309.3M432.0 192.4L436.2 189.1M402.2 224.8L403.8 229.0M388.5 241.0L386.2 243.6M431.7 182.7L431.8 179.5M439.5 179.7L440.4 177.1M399.4 310.2L400.0 313.0M448.0 258.0L446.4 262.8M440.6 255.4L437.2 259.7M392.8 298.0L393.0 303.5M433.1 202.3L436.4 200.7M444.3 303.7L442.8 305.8M414.9 241.8L417.4 246.4M426.7 308.2L426.2 310.8M436.2 309.4L435.2 312.6M415.3 187.1L414.9 182.3M402.9 225.2L406.5 229.3M394.4 302.3L394.9 307.8M428.7 300.6L428.0 303.3M457.2 299.7L454.8 302.0M367.9 266.3L369.6 268.3M381.0 187.3L380.7 184.2M374.3 173.1L372.2 168.9M375.1 162.9L374.2 158.9M436.5 156.6L438.1 153.4M354.6 175.5L354.7 171.9M416.3 268.0L414.4 272.5M399.5 313.8L399.7 318.5M421.9 203.1L424.5 199.6M434.9 278.0L434.1 282.6M412.8 236.5L415.6 239.1M387.6 229.6L381.8 230.9M384.9 235.5L382.5 236.9M357.9 172.8L354.7 167.8M414.1 200.2L415.0 196.4M412.6 320.7L411.5 324.2M460.6 292.6L458.4 295.7M413.3 279.6L412.1 283.5M367.5 211.4L363.3 210.7M422.8 175.0L425.3 169.6M429.7 308.6L428.0 312.5M355.7 173.4L352.9 169.7M422.9 282.1L423.0 285.2M399.2 311.0L399.6 315.7M422.2 292.5L419.6 297.9M368.7 288.8L371.9 293.3M368.8 259.0L369.6 264.0M453.0 278.3L452.1 282.8M385.8 228.1L382.5 231.0M452.2 266.7L448.6 270.7M386.1 217.6L382.8 215.6M453.6 269.5L449.9 272.8M390.6 196.4L389.4 191.2M377.5 316.2L379.2 320.5M395.4 181.1L395.8 177.4M393.2 224.9L390.3 226.1M456.0 284.1L454.1 285.9M375.2 273.2L376.8 275.5M397.1 312.1L397.0 316.1M463.5 291.1L461.9 295.0M372.3 275.2L374.7 279.0M421.7 290.2L419.1 295.2M442.2 299.7L440.5 302.4M368.9 267.5L369.0 272.0M432.2 160.1L432.6 157.1M452.9 271.9L451.0 277.4M439.1 146.8L441.7 142.4M416.5 303.7L415.9 307.4M427.4 289.6L426.0 291.9M412.0 237.4L416.2 240.9M466.2 289.6L463.4 294.2M415.0 242.6L417.3 244.5M375.3 214.0L370.4 213.3M379.6 251.9L382.2 256.2M395.0 303.2L395.1 308.9M380.0 276.3L380.5 282.1M378.5 235.3L376.2 238.0M391.2 189.0L391.2 186.0M362.9 150.5L361.6 148.1M389.7 232.9L386.6 235.7M427.9 243.5L430.9 244.5M437.4 180.2L437.1 175.6M438.4 178.7L438.3 173.9M423.8 252.0L424.4 257.3M424.8 237.2L427.9 239.3M384.2 315.4L383.6 320.6M454.8 297.6L452.8 302.6M367.0 231.2L363.6 231.6M380.7 275.3L381.8 279.3M409.9 195.8L410.0 191.7M410.3 285.8L409.4 288.2M413.3 194.3L414.4 191.7M413.9 241.4L418.8 244.8M418.0 274.4L417.0 279.9M434.4 143.6L435.9 140.4M410.9 284.9L411.9 289.0M424.0 191.4L426.2 189.6M412.7 217.8L415.8 215.7M423.6 180.4L425.6 177.5M423.8 289.2L424.1 292.7M429.1 309.2L428.8 313.2M425.3 311.0L424.5 316.2M385.4 279.1L385.3 283.1M422.6 270.2L422.9 273.1M394.2 296.0L394.2 299.7M414.0 185.2L414.6 181.6M380.0 254.9L380.8 257.7M411.7 304.7L412.7 309.4M429.8 279.7L428.0 283.7M373.0 207.0L368.8 203.1M434.4 183.5L434.9 181.0M403.0 224.6L406.8 229.1M371.8 274.3L372.6 279.0M408.2 192.8L409.8 188.5M385.8 205.2L383.1 202.2M430.0 293.8L428.5 296.4M368.2 282.1L369.6 287.0M433.5 296.8L432.6 299.3M370.9 207.3L366.4 205.4M399.6 315.0L398.9 320.4M363.7 206.8L358.7 204.5M380.2 229.0L378.1 230.4M358.4 168.1L357.4 164.5M422.8 283.3L423.4 287.7M399.9 307.1L400.2 311.4M434.6 284.4L434.1 289.0M399.0 238.0L398.2 241.0M384.8 314.6L386.5 318.8M429.8 210.3L432.3 208.4M423.3 173.9L423.6 170.0M434.1 142.5L435.6 139.0M366.7 198.2L364.3 195.3M434.6 222.0L438.3 222.3M391.1 225.5L387.4 226.2M421.3 247.9L423.6 253.3M370.8 315.2L371.3 320.6M366.8 260.8L368.4 265.0M427.0 312.5L425.2 316.7M364.4 152.1L363.5 149.0M406.6 194.1L407.7 191.3M435.2 288.4L433.8 292.5M364.1 206.6L360.8 205.8M433.7 312.0L432.6 316.9M418.2 305.8L418.9 309.6M456.2 300.0L452.2 303.3M354.4 169.5L352.7 165.8M423.9 280.4L422.7 284.2M395.3 300.0L394.6 304.7M422.2 247.1L424.3 248.8M407.0 204.1L408.2 201.6M389.6 215.3L385.1 211.7M398.7 183.2L398.7 180.6M370.1 204.8L365.4 202.4M406.0 215.3L408.8 212.4M432.0 179.0L433.2 175.8M420.1 259.6L420.7 263.7M441.3 304.5L441.2 308.8M369.5 282.3L371.7 285.7M432.0 204.1L435.5 203.1M421.6 253.8L420.4 258.1M416.6 186.0L416.5 181.3M370.6 159.2L368.4 155.0M426.9 208.8L431.3 206.1M445.6 248.3L450.1 250.5M400.7 237.7L402.0 243.2M427.5 245.7L429.9 248.8M463.4 286.2L461.9 289.5M418.5 294.8L418.3 298.8M415.0 186.7L416.1 183.3M367.5 209.6L362.3 206.8M410.9 237.1L414.2 240.0M397.6 183.7L398.2 178.0M410.0 237.6L414.5 241.3M372.7 182.1L371.0 179.0M388.4 287.5L388.3 292.2M417.4 185.8L418.1 183.1M373.4 269.8L373.5 273.6M458.9 286.3L457.0 289.9M391.2 229.1L386.0 231.3M414.6 239.0L419.1 242.3M371.2 173.9L369.4 168.7M449.1 266.8L447.1 269.6M378.2 239.8L374.7 244.3M397.7 307.7L396.9 312.3M453.5 295.0L451.8 298.0M387.7 284.2L388.5 288.8M437.8 306.3L436.0 309.6"/>
<path stroke="rgb(66,66,66)" stroke-opacity="0.65" d="M430.0 243.8L432.1 246.5M437.0 193.8L439.1 192.3M380.5 240.9L378.6 244.4M419.1 275.3L419.8 280.4M431.5 181.0L431.2 177.8M414.4 205.5L417.4 201.4M415.4 182.3L416.4 177.8M451.9 272.1L450.9 276.6M391.9 216.8L387.4 213.1M380.8 187.6L379.3 184.2M431.6 193.7L432.9 191.4M401.7 227.4L403.8 230.2M391.0 212.0L388.8 210.2M388.2 298.8L387.6 303.9M425.9 160.4L426.4 157.7M369.7 300.7L371.1 304.3M399.6 225.2L399.4 229.3M371.6 312.3L373.4 315.8M375.9 266.9L375.8 270.8M394.7 306.4L395.2 310.9M358.1 151.6L355.5 147.2M432.9 280.8L432.4 286.7M425.0 247.2L427.0 249.6M382.2 313.8L383.7 319.3M396.2 245.7L396.2 248.4M405.7 236.2L407.2 239.2M419.1 260.2L418.9 264.7M400.0 307.3L399.9 310.6M439.2 155.6L439.2 152.9M364.6 202.6L361.5 201.7M357.9 152.5L358.1 148.3M373.7 181.9L373.8 177.2M366.2 197.0L362.0 195.5M388.2 312.9L390.2 316.7M420.1 191.6L421.8 186.0M398.1 205.4L397.3 202.8M398.7 298.1L399.5 303.3M409.5 188.4L410.9 184.9M428.8 315.7L428.3 318.9M431.8 158.8L432.2 153.6M426.5 204.9L428.6 202.5M438.2 141.0L439.7 137.6M422.9 277.2L422.0 280.2M404.8 181.9L407.1 176.7M426.7 299.1L425.9 303.2M426.9 295.6L425.7 299.4M388.5 292.6L388.8 295.1M435.4 192.2L440.2 190.1M424.4 283.7L422.9 286.7M366.5 205.8L363.7 203.5M447.6 304.7L446.6 307.5M398.3 302.5L398.3 306.9M437.1 169.9L439.4 164.8M378.0 236.5L373.9 240.6M430.1 153.1L430.4 148.7M401.3 305.2L402.3 310.4M434.0 221.8L437.1 220.8M387.6 318.2L388.9 322.3M423.1 174.2L424.8 168.8M370.3 268.9L373.2 273.7M439.8 309.0L438.5 313.9M384.9 241.3L380.5 244.1M377.8 219.8L375.3 220.4M376.7 234.5L372.8 236.7M389.5 295.0L389.9 298.4M434.4 288.5L432.6 292.0M412.8 205.9L415.7 201.4M426.0 251.3L425.6 254.7M426.4 301.2L425.5 306.9M421.1 205.9L423.9 202.6M385.6 197.7L381.5 193.6M381.5 172.9L379.9 168.8M404.5 190.7L406.7 186.2M432.5 291.8L430.0 295.6M424.1 292.5L424.3 295.6M392.4 216.6L389.7 214.9M370.6 200.8L368.0 198.0M377.0 175.8L375.1 170.7M449.0 265.1L446.5 268.4M418.3 281.3L416.6 284.8M429.2 225.2L434.1 225.2M370.2 163.8L367.3 159.2M420.2 296.3L420.7 302.2M429.1 239.9L431.8 242.9M415.4 286.7L414.3 289.1M410.9 205.1L413.2 201.1M397.9 208.9L398.8 204.3M416.5 213.8L419.7 212.9M422.6 309.1L422.6 313.2M381.8 178.6L381.0 174.0M412.3 286.8L412.6 291.6M373.6 315.9L375.0 320.3M425.4 160.8L426.3 157.2M360.2 197.5L356.5 196.6M402.2 223.7L406.3 225.4M391.2 239.3L388.4 244.2M452.9 290.5L448.9 295.0M430.1 195.3L432.9 193.5M379.9 215.8L377.4 214.5M435.2 173.0L435.3 169.1M376.1 258.4L376.8 263.0M357.5 146.8L356.6 144.4M379.9 212.6L374.8 209.8M375.3 234.2L372.2 234.9M387.7 180.9L386.0 177.4M399.0 321.4L399.7 324.4M383.0 280.1L383.1 282.6M442.3 180.5L443.8 176.6M425.2 202.9L428.3 201.1M387.0 237.1L384.2 242.1M409.1 192.9L410.0 190.1M447.2 253.7L445.0 256.6M437.7 196.6L443.3 195.0M444.5 246.3L447.6 247.6M367.2 261.3L368.6 264.7M389.5 314.9L392.0 319.9M380.4 172.2L377.7 168.4M373.9 198.8L370.8 194.1M371.9 200.1L368.8 196.2M426.8 196.1L430.2 192.4M365.4 225.3L360.0 227.2M420.4 200.3L423.5 198.1M397.4 202.9L397.7 197.5M429.0 200.7L431.4 199.2M423.1 204.8L425.8 203.1M428.6 293.0L427.9 297.1M379.3 238.3L377.3 239.9M387.4 286.0L390.2 291.0M432.7 216.3L436.6 216.3M436.1 187.8L437.9 182.8M365.9 159.2L365.8 155.3M415.5 281.4L416.5 286.2M439.8 253.3L436.3 257.7M370.7 259.2L373.1 263.4M430.1 273.6L428.3 278.2M450.5 266.5L449.3 269.7M367.0 196.3L365.1 193.9M426.1 295.2L425.3 298.2M368.8 231.4L365.6 232.1M457.4 277.3L455.0 282.2M370.6 291.4L371.4 296.6M434.8 220.3L438.9 221.4M381.7 274.0L382.8 278.3M354.8 153.6L354.0 150.7M399.3 180.8L400.0 178.0M361.4 158.4L359.4 153.4M409.2 227.4L412.8 231.4M439.5 154.1L440.9 151.1M427.3 190.0L430.8 185.8M408.7 183.6L410.4 179.6M393.7 317.5L393.3 320.8M378.3 315.0L380.6 318.9M421.8 304.4L421.5 309.4M420.0 302.5L420.5 305.1M395.3 309.4L397.8 314.7M418.3 217.1L423.6 216.8M380.3 183.0L376.9 178.2M379.3 217.9L375.8 218.4M386.0 207.6L383.6 205.3M421.1 297.3L421.1 301.2M366.7 198.5L362.9 196.4M359.2 148.7L357.2 146.0M419.6 231.7L423.5 232.5M424.7 263.2L423.7 266.6M427.4 314.2L425.6 317.1M380.0 274.8L381.2 280.4M383.7 220.7L379.2 219.3M377.5 254.3L378.5 257.9M449.8 274.7L448.6 278.7M377.9 165.5L377.3 162.1M452.8 294.7L450.8 297.1M385.2 288.7L386.0 293.1M431.9 154.1L432.4 149.1M375.5 164.8L375.3 159.2M385.7 176.3L384.3 172.0M398.8 194.4L397.2 190.0M371.9 253.3L374.8 257.0M412.7 312.9L411.6 318.1M445.3 261.7L442.9 266.2M423.8 195.6L426.4 190.9M364.4 199.2L361.8 198.2M369.1 268.2L370.4 273.2M417.0 299.6L416.8 304.1M392.1 240.9L389.0 245.2M378.8 250.9L378.5 255.8M371.7 280.9L372.5 286.5M412.3 245.4L414.0 249.2M415.5 306.3L415.7 309.6M381.0 317.0L381.9 321.5M418.6 299.4L418.3 302.7M404.5 195.4L404.2 190.9M439.3 150.8L440.1 147.0M404.5 318.9L405.0 321.6M426.9 313.7L426.0 316.2M395.9 217.6L392.6 213.1M433.8 273.6L431.7 276.9M437.1 197.5L440.0 194.6M413.7 187.2L415.1 183.4M385.9 200.6L383.4 197.8M371.8 200.0L368.5 195.4M437.9 174.7L440.2 169.2M414.2 174.6L415.8 172.2M433.0 279.4L432.2 282.2M377.5 220.3L375.0 219.6M371.7 267.8L372.4 272.4M440.6 257.3L439.1 259.6M387.9 313.4L389.6 316.7M401.4 200.3L401.1 197.3M443.3 262.0L442.3 264.5M420.9 288.4L420.5 291.0M369.4 195.2L365.7 191.6M359.5 166.6L358.1 162.7M431.4 198.7L434.3 197.1M420.1 302.8L418.4 308.0M425.6 210.2L430.6 208.1M400.8 239.4L399.9 243.5M434.3 170.8L434.8 166.1M383.5 175.3L381.5 172.1M371.3 166.4L368.8 161.6M403.4 185.4L402.8 180.9M421.2 210.8L425.1 210.2M398.0 181.6L399.3 176.9M426.8 157.3L426.9 154.2M407.0 320.7L406.9 325.3M383.1 315.0L383.0 320.0M385.3 176.0L384.4 171.0M379.6 178.8L379.7 175.0M439.7 196.9L442.8 195.9M401.7 319.3L400.9 323.6M391.3 314.5L390.2 320.0M393.5 311.1L393.3 316.4M420.5 273.3L419.1 275.9M376.7 176.8L376.7 171.9M417.1 207.2L419.5 204.6M403.9 186.9L404.0 184.4M402.8 313.2L402.6 317.4M408.1 207.7L409.9 203.8M436.4 291.3L434.4 294.3M423.0 199.5L426.7 197.5M416.7 267.1L416.3 270.5M405.3 321.4L405.6 324.0M381.5 237.9L379.9 240.7M383.4 230.8L381.1 232.9M455.1 277.1L453.4 281.4M353.1 156.2L352.7 151.1M365.6 213.9L361.5 214.2M381.8 176.0L380.4 172.9M370.0 254.6L370.4 259.2M363.4 193.0L360.2 189.6M374.2 232.8L369.3 235.8M422.7 247.3L424.9 250.3M425.3 240.5L428.4 242.3M432.6 222.3L436.4 222.6M404.4 292.3L406.0 296.7M420.0 282.0L418.2 286.9M387.5 188.9L385.8 185.4M355.9 147.6L354.5 145.4M389.8 298.4L389.8 302.2M427.6 181.8L429.9 176.6M371.2 205.1L367.1 203.1M411.7 234.1L415.0 237.7M366.5 230.4L363.3 232.2M414.4 314.8L412.3 320.4M426.0 313.7L424.8 318.4M362.9 165.2L360.5 161.4M422.9 192.7L424.5 188.0M360.9 151.4L359.2 149.0M419.2 268.6L419.3 272.9M367.5 220.1L361.7 220.8M400.7 296.5L400.6 299.9M410.0 215.3L412.7 213.3M409.9 241.7L412.7 246.1M421.3 287.4L422.0 292.0M428.1 158.3L428.8 152.5M442.7 182.0L442.6 179.2M402.8 195.6L404.2 191.8M370.4 241.7L365.6 244.6M417.4 209.3L422.3 206.7M363.0 205.5L358.5 204.6M446.4 253.3L445.1 255.8M393.6 297.3L394.1 301.5M385.8 214.6L383.4 213.0M419.0 277.0L416.8 281.9M435.3 211.0L438.8 208.8M411.8 305.2L412.2 308.9M386.7 200.5L384.2 196.1M371.8 202.0L367.9 198.1M415.5 280.7L413.6 285.0M435.6 282.4L435.3 287.2M380.5 278.3L381.6 281.8M431.8 150.5L431.5 147.2M403.1 317.8L404.2 320.7M368.6 214.6L363.7 212.9M441.5 247.9L443.2 250.0M382.6 221.8L377.3 220.8M442.0 179.2L442.9 174.6M364.0 154.4L362.7 148.7M393.9 216.2L388.7 213.2M419.8 269.6L417.8 273.5M398.4 312.6L399.3 316.8M369.1 289.4L371.8 293.2M382.9 275.5L384.2 278.9M427.4 184.2L427.1 179.1M402.7 233.5L404.3 236.1M443.2 304.7L439.7 309.0M357.2 190.4L353.4 186.5M435.7 284.2L433.2 287.9M354.3 151.5L354.4 148.4M421.5 266.9L419.3 270.7M423.3 315.6L422.3 318.0M428.7 208.1L433.1 206.4M439.0 249.7L442.0 252.2M410.2 223.5L415.5 226.3M434.9 188.3L434.7 183.2M429.5 154.2L429.9 149.1M375.4 314.9L378.0 319.9M368.8 171.6L366.7 166.1M361.7 172.1L361.6 169.0M427.7 198.3L430.4 196.4M411.5 319.5L411.3 323.6M374.5 200.8L371.8 197.9M453.6 269.3L451.9 273.7M384.4 195.4L382.2 192.9M369.3 199.5L366.5 195.9M358.0 172.8L355.0 168.6M437.1 251.0L434.7 254.2M462.3 283.0L461.4 286.2M403.6 241.0L405.1 244.6M420.8 202.9L424.4 200.5M433.8 175.6L435.0 172.6M393.9 182.9L393.0 180.2M419.6 307.7L420.1 311.4M406.3 243.8L407.3 249.7M431.0 165.9L431.1 160.5M365.3 189.0L363.8 185.8M418.7 297.4L418.3 300.6M367.1 250.5L369.5 255.5M396.5 192.4L397.0 187.3M367.6 270.8L369.5 275.2M441.0 259.1L438.8 262.1M421.7 208.5L425.2 205.8M388.1 299.3L387.9 304.6M379.6 270.5L381.2 276.2M443.7 162.4L444.8 157.8M455.2 285.8L454.2 290.6M443.4 163.1L444.9 160.8M398.7 221.0L396.0 218.0M414.7 236.5L417.6 240.0M374.0 181.6L372.5 178.6M438.1 258.2L436.7 260.7M399.3 250.4L400.0 253.9M419.4 260.7L417.4 265.0M432.3 188.4L432.7 184.2M370.2 191.9L366.7 188.1M435.6 225.0L438.2 225.6M432.0 182.9L432.5 179.4M437.1 145.4L438.6 141.2M372.0 249.9L368.1 252.2M419.6 180.8L420.2 177.7M383.0 232.9L380.1 234.6M424.9 294.5L423.5 297.6M395.1 320.1L396.8 325.3M425.5 206.3L429.6 203.0M369.1 205.1L364.1 203.9M433.4 308.3L433.2 312.6M420.4 206.7L423.0 204.1M428.7 245.6L431.2 247.5M404.9 313.6L405.3 317.6M360.0 162.0L358.8 158.8M459.9 279.4L458.3 281.8M420.0 182.8L420.1 176.9M419.1 319.0L419.5 321.7M404.2 301.0L405.1 303.5M433.8 278.5L430.6 282.9M442.3 251.7L441.5 256.1M403.1 215.6L403.6 211.7M356.0 147.1L353.6 142.7M449.6 261.5L448.2 266.2M363.7 231.1L359.2 233.0M431.2 299.5L430.0 302.3M422.3 215.3L424.9 214.4M382.4 183.7L380.0 179.5M454.6 299.8L452.9 301.6M407.9 195.8L407.9 191.0M379.0 190.7L377.3 188.2M355.1 182.8L355.1 178.5M407.2 234.0L409.3 238.7M365.2 196.3L363.4 193.7M433.2 300.0L431.1 305.3M407.1 259.3L406.8 262.0M384.7 314.6L385.7 317.1M436.8 182.8L436.7 179.7M423.3 215.3L428.8 214.9M432.7 217.5L437.2 215.9M458.9 281.6L457.3 284.3M436.5 214.5L442.4 215.2M419.6 173.9L422.2 168.4M445.3 261.7L444.1 264.6M354.1 174.6L352.6 172.1M422.8 293.6L423.4 299.4M384.7 240.6L380.7 243.3M372.9 310.4L374.0 313.3M376.3 261.8L376.8 266.7M417.8 180.3L419.0 175.3M372.3 283.3L374.7 286.4M434.2 194.8L436.5 191.4M383.7 276.0L383.7 279.4M368.2 261.2L368.8 266.6M442.5 248.1L446.2 250.8M427.9 189.0L429.0 184.7M430.4 281.6L428.9 287.1"/>
<path stroke="rgb(78,78,78)" stroke-opacity="0.65" d="M441.1 237.7L444.7 238.4M423.4 293.8L423.8 297.1M384.4 189.6L383.2 185.7M449.5 302.5L447.5 307.2M384.8 265.8L387.4 270.7M365.5 201.7L362.0 198.7M419.6 306.0L417.8 309.7M432.2 277.6L432.5 282.7M411.7 175.5L411.8 172.4M454.0 296.0L452.9 300.8M432.1 291.9L432.2 296.5M402.9 321.5L404.2 325.8M439.0 254.3L438.4 258.0M387.3 317.4L388.5 320.0M419.6 310.0L417.5 314.2M369.4 166.8L368.6 161.9M425.3 199.4L427.9 197.7M369.2 157.4L367.7 151.8M415.3 279.8L415.9 284.2M385.7 265.2L387.3 268.0M407.4 179.6L407.0 175.9M435.6 183.7L436.7 180.9M424.1 268.3L423.7 272.8M439.1 282.3L437.2 284.5M418.4 225.0L423.7 225.6M425.8 310.6L424.3 313.3M370.6 181.4L370.5 178.4M394.0 275.7L393.9 279.1M425.5 192.3L428.1 190.7M428.6 186.9L430.4 182.9M406.7 265.0L405.8 268.7M422.6 271.5L422.8 276.8M397.3 307.1L397.6 309.8M447.9 304.8L445.2 307.9M397.8 278.7L396.9 284.3M386.9 193.3L385.4 189.9M422.9 182.0L423.8 179.4M370.0 218.9L366.5 217.7M438.6 174.9L440.1 171.4M439.9 146.9L439.6 143.5M408.4 315.5L408.1 318.2M408.0 294.6L408.3 297.4M426.3 166.8L427.9 164.4M412.6 315.4L411.5 320.7M387.1 182.6L387.1 179.7M372.3 190.7L371.1 188.0M440.3 184.1L441.7 181.1M425.6 287.8L423.3 291.8M392.0 211.9L390.3 208.3M389.6 286.8L389.7 289.9M356.0 188.3L353.6 183.8M368.9 197.8L365.0 195.6M366.8 195.8L364.4 193.1M394.5 277.2L394.8 282.7M369.3 156.3L367.6 153.1M414.3 208.8L419.0 205.5M377.0 168.7L375.6 164.7M402.3 321.8L400.9 326.8M381.3 318.7L382.4 321.5M420.1 276.8L419.1 281.6M398.2 192.3L397.3 187.8M415.8 219.1L418.4 217.7M413.6 286.1L414.3 290.8M389.0 231.2L385.8 232.9M432.9 283.1L431.6 285.7M447.0 266.9L444.2 271.3M392.1 184.1L391.1 180.2M387.1 301.4L387.4 305.4M392.4 258.6L391.6 263.8M389.0 178.1L388.5 172.5M412.9 320.0L412.7 324.5M435.6 190.2L437.2 187.4M386.0 178.7L386.0 174.2M374.3 180.6L372.4 177.4M420.9 275.6L420.0 278.8M398.3 273.1L397.0 277.8M409.2 234.1L413.9 237.7M395.1 216.4L392.6 213.4M412.6 218.9L415.5 218.7M383.9 247.1L381.5 249.6M416.9 317.9L416.2 322.7M377.3 207.7L372.2 205.7M424.2 295.4L421.8 300.4M372.8 206.4L369.6 202.9M441.6 307.5L440.6 310.6M424.6 249.1L428.5 251.2M407.7 182.0L409.8 177.5M412.4 306.5L413.3 310.6M380.4 319.0L380.4 322.5M378.2 209.1L373.7 207.7M358.1 187.6L357.4 183.2M412.4 178.0L412.5 172.4M397.0 289.4L399.1 294.3M381.8 276.3L382.5 281.8M383.5 311.8L385.1 317.2M423.1 202.6L426.0 198.3M403.7 178.1L404.0 173.5M427.5 297.1L426.5 299.9M396.3 290.5L397.6 294.0M426.9 224.3L430.4 224.9M391.2 237.2L389.6 241.7M394.6 278.2L395.7 283.1M371.6 253.0L372.1 257.7M452.7 276.6L450.6 280.6M373.0 310.8L374.3 315.2M396.2 311.1L396.9 314.3M401.2 298.3L400.3 303.2M383.1 200.6L381.4 197.3M436.0 251.1L435.6 254.2M398.8 319.7L400.4 324.5M393.7 320.6L394.5 323.1M441.6 173.5L441.4 169.9M396.4 193.3L395.1 190.3M434.0 301.5L432.2 304.7M364.9 253.3L367.6 256.4M409.3 308.1L408.3 311.9M428.6 189.6L429.9 187.0M384.1 195.6L382.1 190.4M423.7 266.7L422.2 272.3M387.8 213.7L385.0 212.4M376.5 204.0L372.2 202.4M389.5 249.2L387.4 252.7M360.2 147.7L358.5 144.7M438.6 289.5L438.1 294.6M385.1 261.8L385.0 264.9M440.5 180.9L442.9 176.4M361.1 148.4L360.2 143.5M378.3 200.7L374.0 198.0M403.8 266.0L404.8 269.9M409.1 307.4L408.3 312.3M372.7 234.5L370.6 236.3M423.9 248.8L426.5 253.0M392.1 264.8L392.2 268.8M369.2 167.1L368.3 163.9M373.0 234.9L368.2 236.7M399.4 316.6L399.1 319.1M438.6 186.7L440.2 183.4M421.6 185.2L423.4 179.7M383.7 317.7L384.4 320.6M413.2 179.3L416.1 175.3M385.1 195.6L383.4 193.9M408.3 294.3L407.5 297.3M401.6 278.0L402.3 283.5M423.4 200.7L426.2 197.2M356.3 144.5L353.6 139.5M371.5 184.6L370.6 179.0M386.1 294.9L386.5 298.1M386.6 178.8L384.7 175.5M368.5 280.8L369.8 285.2M367.3 179.1L365.9 176.7M420.9 276.7L420.9 279.4M378.0 219.6L373.5 220.6M424.2 166.5L425.0 163.3M446.0 305.2L442.8 308.9M356.8 184.7L354.7 180.8M438.3 196.3L440.9 195.6M442.8 248.9L445.3 251.5M370.1 245.5L367.6 246.7M418.9 241.0L421.9 243.1M374.9 168.9L373.9 165.7M395.2 279.3L396.3 284.0M427.7 292.9L426.2 298.6M367.0 207.3L362.9 206.6M362.1 192.4L358.4 189.2M392.4 254.6L394.4 260.2M362.3 157.6L361.1 154.2M366.6 212.8L361.8 210.0M386.7 228.5L383.9 230.7M366.8 216.4L362.8 215.9M437.6 146.1L437.4 143.0M363.6 195.3L361.3 192.4M412.7 295.4L413.9 300.4M439.3 249.6L442.8 251.4M450.8 267.0L447.9 269.7M403.8 238.3L405.0 241.0M414.3 195.3L415.9 191.9M417.0 314.2L417.3 318.6M421.9 209.3L427.0 206.8M412.0 291.6L412.0 296.8M368.0 183.6L367.5 178.9M371.3 167.1L368.3 162.3M440.4 248.5L444.9 250.4M454.8 275.9L452.1 280.0M385.5 176.4L382.9 172.7M411.8 256.7L410.2 262.3M439.8 232.3L443.5 234.6M439.9 253.1L438.9 255.7M399.4 302.4L400.2 306.8M447.6 270.6L446.3 273.5M386.1 298.1L385.8 301.1M401.7 251.4L400.6 255.0M408.4 208.3L410.9 202.9M358.7 155.2L358.0 151.1M445.1 292.7L443.1 295.4M400.1 242.9L400.2 246.5M413.7 214.4L419.2 212.7M421.5 254.4L420.7 258.1M423.2 310.7L421.5 316.1M449.4 303.3L448.5 308.7M353.1 155.0L353.1 151.1M400.9 209.9L400.8 206.6M387.5 190.7L386.9 186.0M384.1 177.5L383.1 173.4M451.8 265.5L450.7 270.1M419.5 180.0L420.4 176.3M437.8 248.5L441.9 251.3M390.7 285.1L391.2 287.7M436.2 276.7L433.2 280.5M425.7 187.7L425.9 184.9M426.3 316.6L426.7 321.1M360.9 195.9L356.6 192.6M451.1 271.7L448.0 274.8M378.6 169.6L375.1 165.0M436.9 201.5L441.8 199.8M441.9 155.1L443.9 150.8M404.0 189.8L405.8 184.8M423.2 277.4L421.7 280.3M416.6 196.6L420.0 192.2M393.5 273.3L393.7 276.9M415.0 235.6L417.7 236.9M378.0 167.2L377.6 163.8M411.7 301.9L409.6 307.5M414.2 301.4L414.4 304.9M386.6 203.6L383.4 199.8M360.6 197.6L355.3 195.6M406.1 181.6L405.5 177.5M378.5 206.4L375.4 204.9M390.0 320.4L391.1 326.2M381.3 281.5L381.1 286.3M419.8 311.8L418.3 314.7M420.1 166.4L419.9 162.7M394.7 287.7L394.6 290.6M358.6 148.6L357.8 145.1M424.1 274.0L423.9 278.9M451.7 289.6L448.5 293.2M385.5 210.1L381.9 207.8M378.3 182.6L376.4 178.2M368.3 247.3L364.8 250.1M407.1 194.2L409.5 189.2M418.3 249.0L421.2 251.2M425.4 262.4L423.6 267.5M433.4 210.5L436.1 209.7M437.1 286.0L433.6 290.6M355.1 168.4L354.5 165.5M409.5 295.2L409.8 300.3M414.9 201.4L416.7 198.4M393.0 182.4L392.0 179.5M439.0 237.8L443.2 239.3M405.2 251.4L404.2 254.5M371.6 304.3L372.2 307.2M385.7 263.9L386.6 269.7M420.8 168.0L422.7 163.8M379.8 227.8L375.6 229.1M440.3 243.3L443.1 244.8M427.6 210.0L430.7 208.7M454.2 273.2L452.6 276.7M396.4 267.5L395.8 272.9M423.0 273.2L422.1 276.4M440.2 190.5L442.0 187.6M372.7 211.1L367.7 209.8M416.7 195.6L419.2 192.3M421.4 256.3L420.6 260.4M376.9 167.0L375.3 161.9M423.8 211.8L426.2 209.6M370.5 261.4L371.1 266.5M370.4 173.7L368.3 170.9M424.2 239.5L427.1 240.5M383.2 281.7L383.0 284.8M429.1 166.7L429.5 164.0M384.9 301.6L386.9 306.2M420.3 216.5L423.2 215.2M435.4 293.9L435.5 296.7M392.6 259.2L392.7 263.0M396.5 284.1L397.5 287.3M400.2 219.8L399.9 215.1M415.3 194.2L416.1 190.8M446.3 273.0L444.7 275.8M410.3 314.7L410.4 319.9M396.6 211.5L395.6 207.0M372.1 183.0L372.1 179.0M421.8 236.5L426.5 239.3M367.1 272.9L369.2 276.2M416.8 172.7L418.8 167.6M432.3 191.2L434.8 190.0M439.2 236.4L443.3 237.5M369.1 191.8L364.9 188.3M421.6 210.0L423.8 208.2M420.7 201.1L422.9 196.8M420.3 278.7L421.1 282.5M438.4 170.0L439.5 167.0M390.0 265.9L392.1 270.8M427.0 300.8L425.9 306.3M376.2 225.7L371.4 226.6M394.3 289.5L395.5 295.2M437.3 255.1L436.0 257.6M434.6 214.3L438.0 214.6M412.7 253.4L411.9 259.0M395.6 293.7L397.8 298.5M368.6 187.7L367.6 184.1M411.4 318.7L411.9 323.4M432.7 193.1L435.9 188.7M426.9 211.2L430.7 208.4M425.0 251.8L422.5 256.2M432.8 225.5L437.6 225.7M372.2 270.9L374.2 274.1M408.5 294.2L407.7 297.9M418.8 196.1L420.0 193.9M378.5 197.5L375.4 195.5M379.7 218.2L375.3 218.1M370.6 257.8L371.5 261.2M396.9 264.3L397.5 268.5M384.8 288.6L386.2 292.7M420.5 163.8L422.4 159.7M371.4 263.2L374.6 267.6M420.0 308.0L418.8 313.3M363.3 191.3L361.2 189.1M411.1 295.9L411.0 301.8M404.6 310.9L405.4 313.5M366.3 177.1L363.8 173.2M427.4 307.1L425.1 312.3M413.1 241.4L414.1 243.8M420.4 294.1L420.3 296.9M390.2 274.8L391.7 279.5M368.2 248.7L364.9 251.7M428.4 172.6L429.7 168.8M396.6 193.6L395.0 190.2M392.7 260.0L393.0 265.6M405.1 195.4L406.0 191.8M390.1 304.1L389.1 309.7M414.9 254.6L414.2 258.3M396.2 261.6L395.9 264.4M421.6 202.4L425.0 200.0M400.8 320.3L401.5 324.0M403.8 261.3L403.6 265.1M441.9 286.3L441.1 289.4M389.6 260.2L390.4 262.8M450.8 304.5L449.9 307.4M436.0 251.2L434.3 254.4M440.5 287.3L439.4 290.6M415.4 178.8L415.7 175.3M374.3 179.6L373.0 175.9M433.7 195.2L437.4 192.5M412.8 298.7L411.3 302.6M371.3 308.1L372.8 311.6M395.3 313.7L396.4 318.2M435.0 150.9L435.6 146.6M449.7 278.4L447.3 282.8M394.3 320.9L395.1 325.6M379.6 197.6L375.3 194.0M362.8 233.8L356.9 233.6M428.7 204.1L431.4 201.2M435.2 185.2L435.5 180.2M435.6 196.6L440.2 194.4M402.5 194.9L403.7 190.9M431.5 225.9L436.4 227.8M401.4 296.4L402.4 300.6M360.6 180.8L359.4 175.7M428.0 253.6L428.0 258.0M388.5 251.5L390.6 256.7M365.1 178.0L364.4 174.4M368.3 268.1L370.2 273.1M436.0 202.9L440.5 200.1M389.4 280.3L388.7 284.1M375.1 188.1L373.7 182.6M425.7 304.8L426.2 309.1M361.6 179.0L360.9 175.7M374.8 266.0L374.9 270.8M429.9 294.3L428.3 297.4M386.6 178.6L384.6 173.6M435.2 166.4L435.9 162.5M358.7 145.2L357.8 139.9M367.6 195.7L364.6 192.6M363.9 217.7L360.4 216.8M421.7 290.8L421.7 294.1M436.8 186.5L437.1 182.3M422.1 317.3L421.1 323.1M433.8 300.0L433.3 305.4M428.2 277.6L427.3 281.7M434.3 287.2L434.2 292.6M442.4 186.7L443.6 184.0M439.4 233.2L442.5 233.6M433.8 308.8L431.9 313.8M356.7 181.2L355.9 175.8M385.5 204.4L381.1 200.7M432.6 183.1L434.2 179.5M396.3 252.3L397.3 255.4M395.1 282.2L396.1 284.7M356.8 165.4L354.8 161.3M437.3 305.7L436.4 309.3M417.8 285.5L419.0 290.9M367.6 158.2L366.9 152.4M431.1 168.1L432.1 162.6M361.7 164.8L361.0 161.0M438.5 162.1L440.7 158.3M352.7 153.4L352.6 148.0M421.5 279.5L420.4 283.2M379.9 198.3L377.1 194.6M363.0 205.5L357.9 203.0M421.8 199.0L425.9 195.5M423.1 276.7L421.7 280.4M409.9 295.0L409.4 297.9M438.4 250.0L441.2 253.9M377.3 264.6L378.5 268.8M419.4 195.8L421.9 190.6M378.8 237.9L376.3 240.4M375.3 314.4L377.0 318.1M428.9 304.5L426.8 307.7M458.4 280.4L456.9 283.2M368.2 171.6L367.1 168.0M367.5 252.1L370.0 255.9M413.7 265.9L411.9 269.8M406.5 176.8L408.2 172.1M419.6 211.0L423.0 207.1M397.4 302.5L399.0 306.8M398.0 195.9L398.2 193.3M406.7 284.5L407.3 287.4M426.8 215.1L430.5 215.4M402.3 262.3L402.7 268.1M388.2 296.7L388.5 300.9M425.5 294.6L424.2 297.1M386.1 180.6L386.1 176.0M385.2 195.4L383.7 191.8M386.3 255.8L386.0 258.7M428.9 290.1L427.7 292.4M438.1 240.1L440.3 241.5M437.3 178.5L437.4 175.1M422.0 315.2L421.6 318.7M438.1 176.5L439.3 171.0M432.7 300.2L432.0 304.5M420.6 312.2L418.6 316.1M364.9 196.4L361.5 192.3M401.6 244.5L402.4 248.2M373.5 311.4L373.5 314.0M422.4 220.1L426.0 219.2M387.8 228.4L383.2 231.8M364.0 169.2L362.5 163.9M431.2 207.7L434.7 207.4M408.8 267.8L407.4 271.3M371.4 243.4L368.8 245.0M371.8 296.7L373.5 301.8M395.6 267.1L394.9 270.6M397.4 197.9L397.8 194.5M382.1 226.7L377.7 228.9M414.9 210.9L418.0 207.9M381.4 180.9L381.2 178.2M409.3 210.3L411.5 206.5M413.4 216.9L417.2 214.2M423.4 247.5L427.0 249.6M412.4 307.2L411.1 310.4M435.7 196.9L438.0 194.9M370.4 254.0L372.2 257.4M436.0 227.0L439.6 226.5M409.1 222.2L411.8 222.7M440.7 182.7L442.2 178.1M444.5 266.6L444.3 269.6M403.6 280.4L402.7 283.5M420.8 177.4L421.7 174.0M356.1 149.4L354.8 146.0M391.9 308.7L390.8 314.1M369.5 261.9L370.0 266.5M373.5 236.6L368.9 239.0M412.0 268.0L412.0 271.8M442.6 301.1L440.0 305.6M448.2 261.4L447.5 266.7M387.0 243.4L383.7 247.4M416.3 239.1L418.8 241.1M394.4 223.3L389.3 224.8M438.3 256.9L436.9 259.9M359.2 167.2L359.1 164.5M367.3 200.4L363.9 198.8M424.3 248.3L428.0 251.5M419.1 228.4L423.7 230.3M431.7 312.7L431.6 316.8M411.2 264.9L411.0 268.2M363.4 170.8L361.6 167.1M440.4 247.6L443.6 248.6M420.2 219.2L424.6 216.9M415.1 218.3L418.7 217.0M387.8 311.7L387.3 317.4M386.3 193.7L383.8 189.1M423.2 244.3L425.8 247.2M370.8 202.2L365.3 200.2M426.6 272.8L425.9 277.7M452.8 299.0L452.1 301.9"/>
<path stroke="rgb(90,90,90)" stroke-opacity="0.65" d="M373.6 216.3L370.7 215.5M377.5 293.5L377.4 296.3M443.4 246.7L447.9 248.1M372.4 218.0L367.3 216.3M404.1 273.1L405.4 276.8M372.4 235.9L367.7 239.0M386.7 178.1L386.5 173.8M376.6 169.7L376.6 164.7M412.8 265.8L410.8 270.7M438.8 165.3L438.5 160.2M414.3 240.0L415.7 244.2M376.1 243.4L372.5 245.1M397.4 195.7L397.1 191.8M441.7 189.7L442.7 186.0M374.0 213.8L369.4 211.9M387.5 302.2L387.1 306.2M445.1 258.3L443.2 262.6M372.8 241.0L369.7 241.9M385.8 183.0L382.7 178.3M387.5 258.0L388.1 262.3M375.1 242.8L372.1 245.0M393.2 258.7L394.2 263.7M373.6 179.9L372.0 175.0M445.4 255.4L445.0 259.0M411.1 320.8L409.9 324.4M415.6 303.8L415.4 308.9M424.5 290.0L422.6 293.9M453.1 270.5L452.1 275.1M397.4 294.9L398.3 297.3M376.1 308.8L377.8 312.5M407.5 257.5L408.9 262.2M379.6 216.5L376.2 216.5M371.2 230.3L366.2 230.8M423.6 162.6L423.7 157.8M421.9 222.1L427.2 222.1M391.2 186.9L388.7 183.1M430.1 188.3L432.3 183.4M427.3 160.4L427.5 157.9M382.6 242.1L380.8 244.3M411.3 292.4L411.8 296.8M403.5 178.6L404.0 174.9M372.2 295.8L374.0 298.3M438.7 299.6L437.0 302.1M413.0 195.0L414.9 192.2M371.0 259.6L371.5 263.6M387.6 250.9L389.5 254.5M353.7 159.5L351.3 156.1M386.8 294.0L387.6 298.7M369.5 243.4L366.1 246.8M395.6 273.0L397.1 278.5M364.2 203.3L361.9 200.9M418.9 311.3L418.3 313.8M373.2 230.0L368.9 233.1M422.2 284.0L422.4 288.2M397.4 275.0L396.7 280.4M435.0 224.1L439.8 223.8M396.1 246.2L395.4 249.9M440.6 158.0L441.6 155.5M438.6 144.7L439.2 141.8M422.7 200.6L424.2 197.7M436.8 250.3L435.2 252.5M451.2 288.9L449.0 291.3M404.8 301.4L405.9 304.9M406.2 186.4L407.5 183.9M419.3 317.7L418.4 321.4M408.7 261.7L408.1 265.3M421.5 317.4L421.4 322.1M436.6 254.7L435.7 257.1M386.1 252.6L386.4 258.5M398.6 194.7L399.1 190.2M393.4 189.4L391.5 183.7M422.3 280.2L421.0 282.5M413.7 192.4L416.4 187.8M385.9 311.2L388.4 316.3M366.6 243.0L363.7 245.5M352.4 162.7L351.5 157.8M397.7 178.7L396.8 175.8M370.1 240.3L365.1 242.5M444.7 269.2L441.7 273.2M387.0 175.9L384.7 172.7M365.5 243.3L360.7 245.5M376.8 184.2L375.0 181.0M380.2 180.5L378.0 175.7M395.9 267.5L395.7 272.4M450.4 269.9L448.2 275.4M399.6 280.7L398.6 285.1M389.6 284.6L392.2 289.4M421.4 319.4L420.8 324.2M374.0 253.3L374.8 256.1M428.0 167.0L429.0 162.3M436.3 154.1L439.2 149.4M385.7 278.9L385.4 283.7M404.4 249.9L404.3 252.7M398.8 246.6L399.9 250.1M419.4 306.2L417.2 311.3M396.5 257.2L397.7 262.9M360.5 173.1L358.7 168.8M444.0 268.8L443.2 271.9M371.4 225.8L368.5 226.2M409.7 281.3L409.3 284.5M426.9 164.2L427.3 160.3M421.1 244.2L425.4 248.3M401.7 265.9L400.6 269.8M378.2 231.1L373.2 234.1M404.5 202.5L404.7 199.3M393.6 319.1L393.0 324.8M441.6 179.0L443.1 176.4M401.8 311.0L403.4 315.5M438.0 176.6L438.9 173.1M394.2 253.5L395.8 258.2M382.5 175.2L381.6 171.0M395.9 307.0L397.1 309.8M436.3 246.3L440.6 248.6M357.4 177.5L357.2 172.5M443.9 242.9L447.3 246.2M375.2 297.3L377.5 301.4M430.4 265.9L428.2 270.5M401.9 193.0L401.1 189.7M353.5 155.4L353.4 150.4M431.1 239.2L434.6 242.0M436.2 233.9L442.1 234.4M411.4 312.9L411.6 317.8M422.0 273.8L421.8 276.7M387.8 195.5L387.1 192.4M376.7 312.7L378.4 315.6M385.4 193.3L382.8 190.8M390.2 309.7L390.9 315.3M392.7 275.2L394.6 279.5M374.4 315.8L374.3 320.0M435.9 234.9L438.5 235.9M378.0 297.4L378.2 302.2M375.9 299.4L377.6 302.9M429.2 270.3L427.4 274.1M408.7 279.1L409.8 283.9M437.6 257.3L435.9 261.3M427.3 206.4L432.9 204.7M376.6 312.7L377.5 318.6M434.0 241.0L437.1 241.9M434.3 153.9L435.7 151.5M430.2 168.3L431.2 162.8M380.0 234.4L375.2 235.5M457.6 279.5L454.1 284.1M373.9 300.6L374.2 305.3M405.7 190.0L405.1 185.8M434.3 233.2L438.3 235.4M444.9 302.8L441.3 307.4M376.9 202.0L374.8 198.7M430.9 219.3L436.2 217.9M427.3 268.2L425.6 272.1M361.3 149.6L360.1 143.8M390.3 198.9L389.9 196.3M363.4 241.6L358.9 244.6M383.7 292.2L383.2 296.6M364.3 226.0L360.1 227.4M382.1 227.2L377.6 228.7M381.9 184.0L380.2 181.9M428.0 250.3L427.0 254.8M427.4 236.3L430.5 236.9M435.7 159.7L436.1 156.1M449.2 302.2L448.0 306.9M386.2 254.4L387.1 257.4M422.4 314.8L421.4 318.2M376.7 302.5L377.3 306.4M427.3 308.8L424.3 313.5M420.0 292.8L418.7 296.9M406.0 310.9L406.8 314.2M390.8 298.9L391.8 304.2M390.8 204.9L388.6 202.8M385.4 305.2L385.8 307.8M371.2 304.9L371.6 309.0M424.6 185.5L425.8 182.3M373.1 232.0L368.2 233.1M376.0 317.1L375.9 320.6M368.2 189.5L367.3 183.8M414.9 224.2L419.5 224.3M406.9 299.4L405.8 303.1M438.3 283.2L437.7 286.2M384.4 260.5L386.2 264.7M381.0 240.0L378.1 245.1M432.2 244.8L435.2 249.0M451.1 279.6L448.9 285.1M433.9 233.5L437.1 233.8M379.0 221.2L375.4 219.8M428.6 283.8L426.7 289.1M408.1 299.6L408.2 303.4M382.1 271.8L383.0 275.2M364.2 194.6L361.2 190.8M388.7 252.6L389.5 256.7M433.2 168.8L434.4 163.3M422.6 304.9L422.1 307.8M373.1 246.7L370.9 249.2M377.6 288.1L379.4 292.3M431.6 271.1L428.7 275.6M431.1 193.1L432.8 190.7M430.9 200.1L435.2 198.1M389.7 179.6L388.7 176.1M431.0 185.4L432.1 183.1M400.4 185.1L400.1 181.0M437.6 295.3L436.8 300.7M378.2 217.0L375.6 217.1M438.5 284.6L437.5 287.4M438.1 256.5L436.4 260.4M404.9 186.2L406.7 181.8M427.5 207.9L432.2 205.8M376.6 307.4L377.3 311.7M413.2 309.5L412.0 314.4M376.2 285.9L378.1 290.8M371.1 292.2L374.4 297.2M368.3 235.3L363.3 238.6M437.6 249.0L440.1 250.3M380.6 298.7L381.4 302.6M395.5 180.2L395.9 177.1M403.5 286.0L402.6 289.5M378.0 301.1L377.9 304.2M450.8 300.3L448.1 303.3M428.9 239.3L434.3 240.7M366.2 235.2L363.8 236.3M433.4 279.5L432.4 283.2M395.5 294.7L395.4 299.4M420.7 230.8L424.6 232.0M415.2 188.4L415.8 186.0M420.0 286.5L419.1 291.4M397.4 185.5L395.7 181.3M420.7 205.5L424.7 203.0M411.3 319.0L410.9 321.6M418.6 206.1L421.3 203.0M426.4 205.0L430.8 202.2M390.4 186.8L387.9 182.4M435.2 246.9L439.0 250.7M428.9 292.8L427.9 295.4M356.5 149.4L355.7 146.7M420.3 177.1L420.3 174.6M422.9 177.6L423.7 173.7M357.7 147.4L355.8 143.3M410.6 311.3L410.6 316.1M380.5 184.0L379.0 181.2M370.6 282.7L370.7 285.3M442.7 302.1L441.1 307.1M383.1 318.5L385.1 323.1M427.9 237.6L431.7 240.8M438.1 169.1L439.1 166.2M373.5 303.3L374.4 309.0M410.7 178.1L412.4 173.1M380.9 262.1L381.1 264.9M377.5 182.8L375.9 177.5M445.8 307.5L445.4 311.2M356.1 179.6L356.1 175.3M360.5 148.2L359.4 145.9M387.3 272.9L387.4 276.3M419.6 208.3L423.0 207.3M420.0 309.1L419.6 314.3M445.3 256.9L444.7 260.3M357.4 148.8L356.8 146.0M382.4 259.7L383.6 262.0M444.5 296.8L442.0 300.1M394.5 300.5L396.7 305.9M438.7 248.3L442.9 249.4M440.6 158.5L442.1 154.5M430.0 293.3L429.7 296.0M423.8 207.5L427.9 206.3M433.0 149.6L434.8 145.3M422.0 291.9L419.8 297.4M358.4 155.9L358.3 152.0M426.5 174.1L428.2 169.0M369.3 167.8L369.2 162.2M392.5 263.3L391.8 268.3M355.1 182.8L354.9 180.3M381.4 303.9L381.6 307.0M390.3 272.2L389.6 275.7M423.5 221.6L427.3 222.4M378.8 219.4L373.4 220.3M392.3 298.1L392.8 301.8M435.6 273.8L434.3 276.3M428.9 188.4L431.8 184.1M435.8 313.5L435.7 317.3M404.2 271.2L402.9 274.8M366.2 201.8L363.8 200.7M381.1 242.5L378.7 244.4M390.4 200.8L388.4 198.4M438.4 310.5L438.0 315.7M407.8 271.1L408.9 275.2M409.7 283.9L410.7 288.3M418.3 243.1L421.2 246.3M438.5 296.1L435.5 299.7M391.9 279.4L391.6 284.7M370.9 287.0L374.5 291.5M390.7 185.4L390.0 181.8M381.5 264.8L381.6 267.6M371.9 159.8L371.7 156.1M399.9 253.2L401.4 257.4M399.6 272.8L401.0 276.2M378.5 175.1L376.8 170.8M409.4 300.1L408.6 302.7M429.0 224.3L434.4 224.1M432.5 155.8L433.5 150.7M364.2 224.3L359.2 223.3M427.7 186.8L428.3 181.8M381.2 216.1L378.4 214.7M424.2 238.7L427.3 239.9M432.3 152.2L433.1 147.4M377.8 297.8L378.9 303.4M409.1 257.0L408.6 260.1M448.0 275.7L446.0 278.9M362.3 231.9L357.6 234.5M429.5 270.4L428.0 273.7M381.3 296.3L382.0 299.3M389.4 257.9L388.7 262.7M435.7 236.1L438.8 237.8M441.2 167.2L443.1 163.3M378.3 186.3L376.5 183.6M424.6 260.2L422.8 263.1M436.4 196.9L438.5 195.2M384.1 308.5L383.9 312.5M437.0 206.6L440.6 204.0M415.0 172.9L415.3 169.9M439.0 258.8L438.9 261.9M406.6 308.1L407.9 313.0M408.5 179.3L408.2 176.7M431.0 192.2L434.5 189.0M428.0 313.8L426.8 316.5M436.0 298.0L435.7 301.7M362.3 158.9L360.6 153.7M425.4 310.2L423.4 314.7M372.0 230.3L367.4 231.4M388.1 313.7L387.7 318.0M385.9 194.0L383.5 188.5M429.5 227.0L432.7 228.5M379.8 248.0L378.0 253.0M401.1 218.2L403.0 215.4M370.4 222.3L367.8 222.6M430.3 312.4L428.1 316.4M425.1 257.0L423.0 261.1M400.3 179.6L399.7 175.0M368.8 238.0L363.1 239.2M434.9 215.4L440.1 215.7M424.0 317.6L423.3 321.1M383.4 308.5L383.4 311.2M375.1 183.2L374.3 179.0M440.7 182.3L441.3 179.4M355.1 161.5L353.6 159.4M362.2 246.3L358.2 249.1M378.8 306.5L382.1 311.4M361.3 198.1L357.6 194.8M360.0 177.5L358.4 175.0M432.4 157.7L432.2 154.5M391.1 291.7L391.3 295.9M433.0 171.9L434.1 169.2M395.0 278.1L394.4 284.0M422.4 301.9L420.6 305.2M414.4 178.1L415.9 174.8M421.7 181.4L421.6 176.1M441.4 243.7L446.6 246.2M395.8 310.0L395.3 313.4M361.8 235.0L356.2 236.1M396.9 253.9L396.6 258.0M391.4 302.7L391.8 307.4M402.5 258.1L401.1 263.7M436.1 286.9L436.0 292.7M387.8 272.0L387.6 274.9M436.7 287.8L434.1 292.1M354.2 148.2L354.0 142.8M438.0 169.8L438.4 165.1M368.4 223.8L365.9 223.7M428.7 221.3L432.5 220.0M381.8 285.7L384.0 291.1M378.2 281.5L381.2 286.7M372.4 187.2L372.0 181.7M430.3 186.0L430.9 183.4M439.9 262.2L439.1 267.4M412.9 176.3L415.4 172.2M364.0 252.3L368.2 256.6M387.2 252.8L388.9 255.9M429.7 316.9L429.2 320.1M435.0 222.1L438.6 220.9M369.7 256.2L372.7 261.1M397.3 201.0L395.8 197.5M358.2 149.5L356.7 145.9M378.6 293.7L379.5 297.2M354.9 159.4L352.3 155.4M371.7 282.7L372.6 285.8M407.3 311.0L407.8 315.2M400.0 271.2L399.3 274.0M380.2 176.0L380.0 173.4M382.8 316.2L385.0 320.8M388.9 304.4L388.5 307.5M392.6 268.2L393.0 270.7M407.6 278.3L407.9 282.4M450.2 295.0L448.5 297.2M386.2 190.6L383.8 188.0M425.4 191.4L427.3 189.0M383.8 181.7L381.5 176.9M369.0 253.3L369.5 257.0M386.9 175.9L387.0 170.3M422.0 301.7L421.7 306.9M399.4 180.7L401.1 175.1M368.0 222.6L362.5 224.5M381.8 287.2L384.1 292.1M395.1 250.2L396.1 254.3M367.9 191.3L365.5 186.6M364.7 194.2L362.2 192.8M394.4 193.4L394.3 189.2M424.7 244.9L426.1 247.0M422.9 204.7L425.8 201.6M391.8 282.6L392.2 285.2M412.1 193.8L413.7 189.9M409.2 253.9L410.4 259.6M440.2 283.6L439.6 286.5M423.0 162.3L423.0 159.4M384.4 288.7L384.0 292.3M427.2 173.8L427.7 171.0M407.1 209.3L408.6 206.9M412.1 214.7L417.4 212.9M372.7 246.2L370.5 249.3M446.9 260.5L443.9 265.1M429.0 216.9L434.3 215.8M403.3 247.9L404.5 253.0M432.5 247.1L434.9 248.6M373.6 196.7L371.0 193.9M377.7 228.1L375.3 228.9M397.1 256.9L397.4 260.4M406.4 254.2L405.5 257.1M378.2 198.0L374.2 194.2M441.8 309.5L439.8 311.8M360.2 199.3L355.7 196.7M373.0 283.8L373.5 287.0M380.8 265.6L381.7 270.1M430.3 180.2L431.3 177.1M408.4 299.9L407.8 305.7M378.7 237.6L375.4 241.9M422.3 240.6L425.6 242.7M430.7 242.0L435.1 244.9M434.4 142.0L435.2 136.9M389.6 319.6L389.9 323.4M436.2 170.4L436.9 167.5M436.4 184.4L436.2 181.7M430.2 281.0L430.7 286.8M441.5 160.8L441.3 158.0M376.9 211.7L373.0 210.4M366.5 195.9L364.6 193.3M430.8 155.2L431.5 152.7M425.6 293.5L425.1 296.5M424.1 204.2L426.6 201.1M373.6 230.6L369.2 230.8M384.1 254.0L385.0 258.0M377.9 206.9L373.9 203.7M424.8 298.4L423.4 301.9M362.0 180.9L360.3 177.8M437.4 225.3L442.1 225.2M384.5 268.4L385.5 270.8M368.0 182.6L367.4 177.4M375.3 288.0L376.1 290.7M397.8 288.2L399.5 293.0M441.2 305.0L438.4 309.6M406.2 311.0L405.1 316.6M413.3 192.7L416.6 188.1M397.4 263.7L397.7 267.3M407.3 253.8L407.6 257.7M429.6 183.1L430.6 179.5M415.5 202.0L417.7 198.3M421.1 309.9L420.9 312.5M421.6 195.2L423.7 192.8M367.1 241.7L363.6 243.7M443.7 284.9L440.8 288.2M437.4 152.8L439.9 149.0M373.9 186.1L371.0 181.1M437.3 176.9L437.0 173.9M400.6 253.2L401.5 255.6M416.8 260.1L415.6 263.0M380.2 173.0L379.3 168.0M391.7 187.8L389.2 182.5M364.7 242.2L360.4 245.6M432.0 294.1L430.3 299.4M398.2 301.9L397.4 305.7M432.0 197.0L435.9 193.5"/>
<path stroke="rgb(102,102,102)" stroke-opacity="0.65" d="M383.9 292.4L385.8 296.5M457.0 283.4L455.1 287.9M437.3 164.7L438.6 160.9M374.8 231.6L371.4 232.1M436.2 166.6L435.7 160.8M365.7 229.9L361.9 232.1M366.6 225.6L361.6 226.6M362.9 234.2L359.2 234.7M385.8 272.1L386.9 274.5M359.1 188.3L357.9 184.5M406.4 186.0L405.9 182.0M397.5 290.1L398.8 295.4M415.5 264.6L415.9 267.8M385.8 274.3L385.1 279.0M406.3 273.8L407.1 279.7M361.9 233.6L357.7 235.9M366.5 238.3L362.8 240.6M430.4 256.2L430.4 261.0M431.9 146.2L432.2 141.3M364.6 233.1L360.5 234.6M408.8 254.5L410.0 259.6M425.2 254.2L425.3 258.6M437.9 160.4L438.1 156.5M433.3 250.4L431.8 252.9M369.3 240.2L365.5 244.2M393.3 191.0L392.1 187.2M439.9 181.8L442.0 176.2M426.1 195.8L428.4 192.3M388.1 189.8L386.2 186.9M411.7 266.9L411.7 270.5M436.3 175.4L437.2 172.8M440.1 155.7L441.7 152.7M395.7 281.3L396.5 285.0M436.8 180.8L437.9 178.1M377.9 197.4L376.0 195.3M392.4 192.2L392.4 189.6M373.7 159.8L372.7 154.8M368.9 177.6L367.4 174.5M361.1 169.9L359.5 167.3M380.7 307.6L382.1 311.4M373.9 160.8L372.0 155.9M431.4 250.7L430.9 253.2M378.2 218.2L373.0 218.7M394.9 211.6L393.4 205.9M420.9 192.5L422.6 190.5M395.5 270.5L394.4 276.2M395.7 176.7L396.8 171.7M429.8 253.4L428.3 256.2M407.7 258.6L407.4 262.6M373.3 225.8L370.0 225.1M439.2 261.2L436.4 266.2M432.2 174.9L432.9 171.9M392.8 294.2L395.2 299.3M441.7 143.4L442.8 137.6M443.3 159.8L444.4 157.3M377.7 240.4L375.0 244.6M390.5 271.5L392.7 276.2M392.2 281.0L393.5 286.4M405.8 264.6L404.9 268.3M416.1 253.3L414.0 257.8M409.5 274.5L409.5 278.5M370.3 308.3L371.0 312.0M383.9 188.2L383.7 185.2M403.0 280.5L403.5 283.7M400.7 272.8L399.6 276.2M385.3 266.4L385.9 272.4M437.7 187.3L438.3 184.7M440.2 161.2L441.0 157.4M409.0 187.9L410.8 182.5M434.2 275.8L433.7 279.5M418.1 165.1L419.8 159.5M391.7 256.9L393.4 262.2M443.2 170.9L444.3 168.5M406.3 176.1L407.1 171.4M442.7 285.5L442.1 288.8M438.0 249.1L442.0 250.6M363.7 234.4L358.4 236.9M437.3 242.1L440.4 242.8M409.4 257.5L407.5 262.8M414.2 273.3L412.7 277.2M452.0 282.9L448.8 287.6M408.0 283.0L407.7 287.3M355.2 184.8L355.3 181.5M421.9 214.7L427.0 213.9M437.1 271.7L437.1 275.1M425.1 256.3L423.3 262.1M427.5 263.7L426.0 267.0M392.4 189.0L390.5 185.7M389.8 285.6L391.4 290.9M406.1 189.5L408.2 184.8M420.0 234.3L422.7 235.8M387.1 269.3L389.1 273.9M421.3 172.9L421.5 168.0M381.5 247.9L380.4 251.0M393.9 188.8L393.0 185.2M392.4 250.9L391.8 255.8M434.2 166.3L436.4 162.3M375.9 287.1L377.6 292.5M427.4 172.3L427.7 168.8M461.0 284.1L457.3 288.0M404.4 261.0L403.8 264.3M389.4 248.1L388.5 250.5M440.9 260.8L437.9 265.8M430.6 213.5L435.4 211.2M361.2 174.8L360.9 170.3M370.8 232.1L366.2 235.3M387.0 256.0L386.7 260.8M418.9 190.4L420.7 186.3M440.0 243.0L444.3 246.4M427.0 256.8L426.1 260.9M430.4 270.3L429.2 273.0M415.8 187.3L417.0 182.3M386.0 270.5L386.6 273.2M435.7 226.2L441.1 225.7M388.1 281.0L388.2 284.4M380.3 301.2L380.3 305.0M382.6 263.4L383.9 266.0M356.9 160.4L356.2 157.9M442.2 282.4L440.8 284.6M380.4 307.3L382.6 310.8M440.7 278.4L438.8 283.8M376.5 185.9L376.6 180.5M430.5 270.1L430.0 276.0M439.1 250.0L442.8 251.8M421.5 229.5L426.5 231.9M450.1 293.0L446.8 296.4M375.0 163.5L374.6 159.8M437.0 241.3L440.3 244.9M430.2 179.5L430.9 175.6M458.0 295.0L454.9 299.1M451.1 279.0L447.9 283.9M395.7 277.4L395.8 281.5M380.6 286.2L380.4 289.2M386.0 252.2L385.8 257.8M463.6 289.2L460.9 292.2M425.5 258.0L424.9 262.0M393.9 294.5L392.6 299.7M366.7 246.0L364.5 247.8M397.3 267.4L397.7 273.3M429.8 242.8L432.2 244.8M424.3 205.4L427.9 201.4M440.7 171.3L440.6 167.5M441.3 258.0L439.3 261.2M371.6 229.8L366.9 232.9M366.7 250.6L368.8 254.6M439.6 186.5L440.0 182.5M394.6 192.4L392.9 187.8M447.2 272.4L446.7 275.2M436.2 225.6L439.3 226.5M365.4 225.3L361.1 224.6M412.5 280.8L413.5 284.2M437.0 261.8L435.4 264.7M435.7 202.9L438.7 200.7M436.3 242.1L439.5 245.6M437.1 163.0L436.7 158.7M445.4 294.3L442.7 298.0M389.1 259.9L391.2 265.0M413.3 183.0L414.6 178.8M397.6 281.5L399.4 286.6M377.9 229.7L374.7 231.7M437.8 275.2L435.8 280.6M441.8 289.3L440.1 293.2M386.9 246.5L385.0 251.7M385.5 253.8L386.0 257.4M417.5 261.0L416.8 264.0M432.0 179.0L434.3 175.4M403.5 281.7L402.3 286.2M372.0 213.0L368.0 210.4M437.4 163.4L438.1 158.5M456.1 288.3L453.6 293.1M389.1 256.1L389.6 260.6M376.2 225.1L370.9 224.0M386.9 281.3L389.0 286.2M390.0 262.5L390.1 267.4M404.9 200.4L406.2 197.9M424.6 188.9L425.8 185.2M401.8 271.7L401.3 274.9M422.6 224.9L425.7 225.1M430.3 246.3L433.4 248.5M413.7 278.1L412.7 281.8M444.4 287.2L441.5 292.4M385.1 308.5L387.0 313.0M444.0 284.3L443.1 289.3M430.1 234.2L435.7 234.6M375.6 298.6L377.0 302.8M358.9 145.0L357.7 141.1M430.5 268.5L429.6 273.3M407.2 274.5L405.8 279.2M372.8 309.3L375.2 314.7M427.3 262.0L426.5 266.7M363.2 235.7L360.0 238.2M398.2 249.3L399.1 253.1M366.4 172.1L363.9 167.1M413.8 252.7L414.7 258.5M393.7 211.0L391.6 205.6M361.5 161.2L361.4 156.5M402.2 259.8L401.9 263.0M364.9 239.0L360.7 239.6M386.8 266.6L388.7 270.6M385.9 183.9L384.5 181.0M411.2 188.4L413.8 183.6M436.0 184.9L438.2 181.7M400.5 287.2L401.8 291.1M380.5 281.4L380.6 284.5M449.7 274.0L449.2 276.9M406.6 207.6L406.8 205.0M427.3 191.4L429.9 188.5M415.2 191.3L416.0 188.3M375.4 225.6L370.6 226.5M386.6 263.4L387.9 267.9M449.4 298.2L446.7 303.0M369.7 230.1L365.1 230.8M413.0 183.8L413.8 179.3M439.5 239.7L442.4 241.8M425.3 219.6L431.2 219.7M378.5 261.4L378.4 266.3M402.9 282.2L403.5 285.0M424.0 259.2L422.6 262.9M429.1 213.8L434.1 212.8M382.3 291.1L383.3 293.9M421.5 213.0L424.2 212.0M433.2 198.8L436.1 195.7M413.9 262.0L412.1 266.9M404.4 290.7L404.4 293.8M424.2 228.0L427.1 229.1M428.1 224.2L431.3 224.8M376.7 198.1L374.7 194.8M460.1 288.2L459.0 291.0M379.2 293.7L380.5 298.2M356.6 164.4L354.9 162.2M432.8 162.8L432.9 158.0M427.6 213.0L431.2 212.0M387.7 267.4L389.4 271.1M407.9 264.8L406.3 269.1M397.6 207.6L397.6 203.4M464.2 289.3L460.9 291.8M357.3 152.3L356.0 149.5M393.0 278.4L392.9 284.0M443.0 290.2L442.1 294.0M402.3 188.8L403.1 183.2M393.8 291.0L393.2 293.6M435.8 237.0L441.3 237.4M426.9 174.5L429.6 169.8M408.7 214.8L413.5 212.0M380.1 293.7L381.4 296.6M451.7 290.2L450.3 292.4M383.4 271.5L384.1 275.5M433.0 253.1L432.4 257.1M424.4 259.8L423.2 265.4M430.0 247.0L434.4 248.9M429.2 217.0L433.5 215.1M402.6 283.1L402.6 287.7M449.1 292.4L448.4 296.5M407.2 265.3L407.6 268.9M380.1 272.1L381.5 274.6M379.3 219.6L373.7 220.3M391.5 207.9L389.8 205.6M429.0 162.9L429.6 159.1M403.9 282.6L403.3 287.3M394.6 186.2L394.0 183.5M376.9 189.6L376.6 185.0M411.1 272.7L411.0 275.4M441.3 148.0L442.7 142.3M357.9 160.6L357.3 156.9M401.3 251.3L402.5 254.7M385.8 267.8L385.5 271.3M353.5 175.4L353.6 171.2M374.1 240.4L371.5 243.8M368.9 227.9L366.2 228.6M372.4 287.4L374.1 292.0M384.4 300.7L386.1 304.3"/>
<path stroke="rgb(114,114,114)" stroke-opacity="0.65" d="M420.0 223.1L423.1 223.7M382.0 304.1L383.4 307.8M409.4 272.9L409.8 278.3M409.8 276.5L408.4 281.0M377.0 222.9L373.6 222.9M436.1 246.2L438.4 249.2M394.9 194.9L395.1 190.7M371.3 156.8L369.2 153.1M451.3 289.1L448.9 293.5M408.8 279.8L408.3 283.8M448.1 284.5L445.4 287.5M367.0 238.8L361.5 240.6M418.1 252.4L418.6 257.1M362.6 223.7L358.0 222.6M387.6 282.5L389.4 286.5M460.3 286.0L458.7 289.6M366.3 280.4L368.3 284.1M386.9 282.6L387.5 287.3M407.1 266.0L407.3 268.8M368.8 271.4L370.1 276.1M361.2 146.6L359.5 142.7M454.6 295.8L451.9 300.4M448.0 295.7L446.2 301.3M357.1 159.6L354.4 155.8M376.1 283.5L377.7 286.1M444.6 278.2L442.5 281.2M462.5 286.3L461.3 290.9M383.8 256.3L384.2 259.3M448.6 289.8L447.5 294.5M387.7 188.9L386.1 186.2M371.0 230.6L365.8 232.9M363.2 257.8L365.4 262.9M457.4 275.8L455.7 280.2M387.4 185.7L387.1 180.2M356.9 159.0L353.6 154.1M456.6 298.4L452.6 302.6M393.2 246.9L392.7 252.8M446.1 295.6L444.2 298.0M414.1 278.5L412.9 282.4M416.3 200.0L417.7 197.8M375.1 226.3L369.9 226.5M409.6 283.9L408.9 286.8M438.2 241.2L440.7 242.4M454.5 287.1L453.8 289.9M432.6 178.0L434.0 175.0M419.9 186.4L421.0 183.9M375.8 293.7L376.9 297.3M367.4 168.0L366.8 165.5M456.2 289.0L452.7 291.9M451.5 285.4L450.4 287.9M434.8 254.4L434.6 257.8M451.2 303.5L449.1 308.4M408.1 197.1L409.1 194.7M358.9 159.4L358.4 155.8M422.5 174.6L425.3 170.2M422.8 213.6L428.2 213.1M458.6 298.1L456.3 302.0M437.3 264.8L435.8 269.6M439.8 173.7L439.6 171.1M458.7 289.7L457.4 292.7M409.9 279.7L410.4 283.1M384.4 291.3L384.3 295.9M406.9 194.6L407.4 190.1M407.6 175.7L409.4 171.8M374.7 217.3L368.9 216.2M432.6 168.8L435.4 163.5M417.1 187.2L418.5 182.4M459.9 295.4L455.8 298.6M406.8 266.7L407.6 270.7M456.9 285.2L456.2 287.7M390.7 289.7L389.9 294.3M365.4 234.6L362.0 236.8M368.0 237.4L365.3 237.8M427.2 223.5L433.0 222.5M414.8 276.4L415.1 281.2M430.4 169.9L431.3 165.3M371.3 265.3L373.6 268.4M435.3 162.2L436.3 158.1M430.4 148.9L430.3 143.4M419.7 248.7L421.8 251.0M394.7 296.7L394.0 301.1M358.1 179.7L355.1 174.8M425.1 218.4L427.5 217.2M435.4 236.0L440.7 238.4M443.8 175.5L445.0 170.5M381.6 269.0L383.6 272.8M412.2 253.0L412.2 259.0M440.8 171.3L440.8 165.9M406.9 276.9L407.3 280.4M390.0 190.3L389.7 185.2M409.8 287.5L408.4 291.3M381.0 289.8L381.0 295.6M369.5 262.8L370.2 265.5M367.7 273.4L367.9 276.1M380.6 269.0L382.1 273.6M413.8 186.2L415.4 183.4M424.3 225.7L429.4 227.8M364.4 227.2L362.1 228.3M421.6 216.8L426.6 216.3M415.8 250.0L416.3 254.4M423.4 158.8L423.0 154.7M380.4 286.5L380.6 292.3M459.5 283.3L455.7 287.1M428.9 254.9L427.9 259.1M412.1 272.2L410.9 274.8M437.9 225.6L442.7 226.8M414.6 280.9L415.3 286.0M426.4 256.1L426.0 259.7M445.8 247.5L449.2 250.5M374.1 289.8L374.4 295.7M417.9 258.6L417.1 262.3M381.3 274.4L384.4 279.1M366.9 273.9L371.0 278.3M434.5 143.9L435.6 141.1M395.0 271.4L396.6 277.1M418.6 261.1L418.4 266.9M433.3 143.8L434.4 139.9M379.8 248.6L375.7 251.8M423.2 230.9L426.7 232.4M370.3 307.1L371.7 312.4M412.7 247.0L415.0 250.7M398.0 295.4L399.0 298.8M420.2 253.8L420.2 257.3M439.6 166.1L441.4 162.8M415.8 199.8L419.7 196.7M423.8 188.1L424.3 185.4M383.6 293.2L385.2 298.8M455.5 271.9L453.5 274.3M376.2 300.5L378.7 304.5M413.6 252.3L414.4 257.5M412.6 281.0L413.1 284.5M376.5 230.2L371.8 230.4M435.6 247.3L438.9 249.4M389.8 259.4L391.1 262.7M434.0 233.1L436.6 234.5M391.3 287.0L391.2 290.7M376.8 223.8L373.5 223.2M373.6 217.4L370.9 216.7M402.7 231.0L405.3 234.7M448.0 275.4L447.3 279.0M456.9 282.2L455.0 287.7M378.8 306.6L381.2 311.5M440.6 161.7L442.9 157.1M356.9 166.7L356.2 163.6M420.0 261.5L418.4 266.6M460.1 283.0L458.2 288.5M404.6 294.8L402.9 300.3M459.7 281.7L457.1 285.4M438.0 225.6L442.4 226.9M439.5 244.4L443.3 245.7M432.9 178.6L433.5 174.9M379.0 263.6L380.1 266.6M457.9 275.0L454.0 279.0M434.7 229.7L439.5 229.5M443.3 175.9L443.6 171.3M441.9 282.8L441.3 285.8M423.5 197.5L426.5 194.9M380.4 276.8L382.3 279.9"/>
<path stroke="rgb(126,126,126)" stroke-opacity="0.65" d="M458.1 296.1L456.3 300.4M383.3 313.4L385.4 316.9M375.5 250.3L375.4 254.2M428.3 243.6L431.1 245.6M361.6 218.5L358.8 217.5M447.0 282.1L446.0 286.1M418.1 269.9L417.6 275.2M457.1 275.4L453.5 279.2M410.5 280.9L408.9 286.7M430.1 288.4L429.3 291.5M354.9 183.1L354.0 179.7M375.0 288.8L376.2 291.9M442.6 300.8L442.1 303.9M414.0 303.5L414.3 306.6M448.0 289.8L446.4 295.5M436.1 206.7L441.0 206.2M372.4 276.6L372.5 281.2M429.3 314.4L427.9 317.6M379.9 317.5L381.3 322.3M438.2 155.0L438.9 152.4M388.0 187.6L386.7 183.7M406.4 296.7L405.1 301.0M384.6 280.4L385.4 285.0M413.6 202.9L414.7 199.8M439.4 271.9L437.6 275.4M439.4 275.8L438.7 280.2M357.1 161.6L355.6 159.0M413.7 284.9L412.6 289.6M370.2 155.9L368.2 151.4M406.4 311.5L405.2 316.1M377.7 218.4L372.7 216.8M367.9 258.5L368.7 261.8M373.7 246.5L372.2 249.2M371.4 234.1L368.0 237.2M385.6 186.1L383.3 181.7M412.2 285.5L411.4 288.7M415.6 308.3L413.7 313.8M439.4 297.4L437.9 300.3M409.1 291.6L409.3 297.3M457.9 288.7L455.9 292.9M431.7 266.7L431.4 271.7M406.2 300.1L405.7 304.9M449.9 288.5L448.8 292.9M425.1 219.7L428.9 218.3M387.3 283.4L386.7 289.3M444.5 307.5L443.5 310.6M453.1 286.4L450.1 289.6M426.1 272.8L425.9 277.1M447.6 283.1L447.0 288.3M406.9 303.4L407.2 306.1M369.4 232.8L365.3 233.7M393.0 204.4L391.5 201.2M390.0 312.0L390.6 316.3M434.5 164.8L436.3 161.1M422.3 174.8L423.6 169.0M402.1 300.7L403.2 303.4M398.1 294.7L399.6 298.1M373.2 262.5L373.3 267.6M378.0 220.0L373.7 220.3M357.0 165.2L355.6 162.3M406.3 293.3L407.3 296.9M377.0 191.9L374.3 186.9M383.3 314.3L382.9 319.0M381.2 289.7L383.4 295.1M387.7 319.5L387.5 324.5M446.6 262.3L444.3 267.4M417.0 268.1L416.0 271.7M406.3 293.3L406.1 297.8M391.0 188.1L390.3 183.3M399.3 296.0L400.6 300.4M428.7 258.5L426.3 263.7M418.4 250.4L416.8 255.3M430.0 290.0L427.3 294.0M391.9 318.1L393.2 322.3M408.7 296.7L409.6 300.9M460.6 281.0L458.2 283.8M380.3 265.5L382.0 269.6M375.1 271.1L376.8 274.0M379.6 188.6L377.2 184.9M375.7 218.0L370.2 217.3M418.6 259.8L418.6 263.9M388.9 187.9L386.1 184.1M435.7 290.5L433.3 295.2M377.1 298.9L377.8 301.7M424.9 284.1L424.7 288.6M403.3 308.3L403.9 312.2M422.0 269.3L421.9 274.0M446.2 288.0L445.5 292.7M374.5 260.9L375.0 264.7M425.5 315.5L423.1 319.3M457.4 294.4L455.5 297.5M452.1 284.0L451.3 286.6M434.3 165.2L435.2 160.1M424.8 304.8L424.2 310.0M381.7 293.9L382.1 297.1M439.1 181.9L439.7 177.2M377.7 255.1L379.5 259.3M432.2 315.3L429.3 320.2M398.4 306.6L398.5 310.9M451.5 274.8L448.1 277.8M422.3 216.8L427.2 215.8M435.6 157.0L435.6 152.5M418.7 269.5L419.1 274.0M441.9 294.1L441.2 298.8M412.7 187.9L414.9 184.0M418.9 279.5L419.0 285.1M398.4 315.5L400.5 320.7M434.1 291.4L432.7 295.6M455.0 276.5L453.6 280.1M464.7 285.1L463.5 288.0M408.6 203.1L409.2 200.1M448.6 295.1L446.1 297.5M443.5 154.2L445.2 149.8M362.5 160.4L361.2 157.7M380.1 266.1L381.6 270.6M438.6 298.9L437.7 302.3M425.4 313.3L423.9 317.0M362.9 184.7L361.7 179.2M411.3 312.9L410.1 317.8M368.8 266.4L369.5 270.3M415.1 269.0L414.6 273.0M409.1 283.5L408.6 286.0M377.4 221.9L373.5 223.2M451.1 261.3L448.8 265.9M381.0 268.8L381.4 272.4M453.5 281.0L452.5 284.8M461.8 286.5L459.3 291.4M412.3 172.7L414.4 168.5M457.2 294.4L454.4 296.9M418.5 250.7L418.5 254.7M367.4 239.1L362.4 240.4M387.3 291.1L387.3 295.9M433.0 261.1L431.4 263.6M415.8 272.7L414.7 276.1M367.4 278.9L369.5 282.3M375.2 194.9L373.4 191.3M413.7 319.9L413.4 324.7M385.3 286.0L386.3 288.7M390.4 202.0L387.5 198.0M379.6 294.0L380.2 296.9M399.3 302.0L400.2 304.7M359.5 181.5L359.4 178.7M408.3 197.5L411.1 193.4M425.8 212.6L428.7 211.8M370.9 240.2L366.6 242.4M372.0 176.8L371.7 171.4M437.4 312.0L436.1 316.9M378.8 188.8L377.3 185.9M367.2 240.8L362.0 242.3M406.6 306.2L406.5 309.9M369.1 286.8L370.1 290.8M437.2 309.3L436.4 312.0M370.3 173.8L370.0 168.4M389.2 318.8L388.9 324.6M420.2 254.8L420.8 260.6M422.6 313.5L421.7 318.1M431.5 266.6L429.8 270.5M382.4 315.6L384.7 319.9M446.3 282.8L444.9 287.5M426.0 277.5L424.0 280.9M388.7 314.0L389.0 316.5M408.3 299.2L409.1 302.6M422.9 172.9L424.5 169.5M406.1 318.1L407.8 323.1M445.4 306.5L443.4 308.7M380.2 270.3L381.0 274.1M422.2 262.8L420.5 268.4M432.8 312.8L432.2 315.8M448.5 264.6L446.9 267.7M373.0 255.9L374.2 258.4M378.0 246.2L375.3 250.1M379.4 264.8L380.6 270.5M396.8 296.0L397.0 301.0M429.9 288.4L429.6 291.6M409.4 303.3L407.5 308.9M392.5 194.6L392.9 189.5M374.2 276.5L374.8 279.4M408.7 191.7L410.3 187.8M379.2 265.6L379.8 269.3M358.6 173.1L356.5 167.7M383.3 277.7L384.5 282.8M424.7 218.8L430.1 217.5M374.3 218.3L370.3 218.4M442.6 270.6L441.5 273.1M388.7 300.6L389.6 305.1M423.6 303.1L422.9 305.6M371.0 262.3L373.0 265.3M373.2 277.5L374.1 280.4M462.8 292.6L462.0 295.4M454.2 268.7L452.7 273.3M439.3 303.1L438.6 305.6M421.6 194.7L422.8 192.3M430.1 255.9L429.5 258.3M439.4 176.8L439.9 174.0M415.9 265.5L414.8 270.2M411.2 287.8L412.1 291.3M368.1 287.4L370.6 290.7M400.5 293.3L400.8 297.4M380.7 289.4L382.6 292.4M442.0 192.2L445.5 190.4M371.8 224.1L366.9 225.0M369.4 260.8L371.2 265.5M430.0 316.5L428.5 319.6M392.1 312.0L393.4 316.1M389.9 297.6L392.1 302.2M407.7 295.3L407.5 299.0M417.7 262.7L416.9 266.0"/>
<path stroke="rgb(138,138,138)" stroke-opacity="0.65" d="M427.5 275.1L427.3 280.5M438.7 225.2L444.3 226.5M401.0 318.0L401.4 321.1M441.9 272.3L440.4 276.9M420.3 260.7L421.1 265.8M452.8 299.5L450.6 304.2M408.1 175.8L407.3 170.8M421.6 301.4L420.9 305.7M390.6 318.8L392.9 324.1M420.2 273.9L419.3 278.7M422.7 317.6L421.1 322.1M429.4 257.7L428.8 260.6M386.8 319.6L389.0 324.9M370.1 279.5L370.3 283.1M418.6 281.7L417.3 285.3M376.0 276.3L377.0 280.0M429.0 301.8L429.5 307.0M390.6 294.4L392.0 299.8M435.6 263.6L435.4 267.4M388.8 315.4L388.5 318.4M425.6 267.8L423.8 273.0M374.6 249.4L370.9 253.7M424.2 157.4L424.1 152.0M458.4 295.9L455.9 298.4M444.0 278.6L441.9 281.9M417.4 274.5L416.2 279.1M367.6 271.7L371.2 276.1M418.6 300.8L416.6 305.8M418.8 273.2L418.0 277.4M361.9 182.3L361.6 176.6M400.5 302.2L399.5 307.6M447.9 267.2L446.0 272.8M377.7 218.8L373.4 219.5M429.0 260.4L427.3 262.9M461.3 290.6L459.0 294.7M430.4 250.7L428.3 255.5M370.1 294.7L373.3 298.9M398.6 313.9L399.3 319.6M433.3 310.1L432.8 315.6M401.1 305.6L400.5 308.8M374.8 253.7L376.9 258.7M421.5 280.2L421.7 282.9M452.1 265.3L448.8 269.0M423.2 254.5L423.6 257.3M425.5 302.9L425.1 307.3M408.7 305.6L409.8 309.1M443.9 277.6L442.6 282.2M419.1 302.8L418.1 305.1M414.7 299.9L413.2 305.0M374.2 275.7L375.7 280.6M417.2 314.5L417.9 318.5M364.9 258.0L366.8 262.9M445.0 308.8L442.8 312.7M433.6 262.0L431.4 266.3M366.7 274.1L368.9 278.4M428.0 249.1L430.1 250.8M431.9 170.4L434.1 167.1M387.0 310.3L388.2 314.0M411.6 285.0L411.4 289.1M424.3 300.8L422.3 305.7M435.0 290.0L434.8 293.8M422.2 274.2L421.1 276.7M408.5 304.5L407.8 309.9M440.1 292.1L439.3 294.7M420.0 290.8L420.0 294.4M418.7 271.6L419.8 277.4M444.3 258.2L443.9 260.8M428.7 305.2L428.7 307.9M437.4 175.3L439.6 171.3M420.7 278.8L418.7 284.1M439.1 302.9L438.9 305.9M437.4 307.8L435.6 310.0M441.8 296.6L441.6 300.5M357.3 161.3L355.3 155.8M443.6 276.6L441.3 280.0M425.8 301.3L426.1 303.9M384.8 201.1L380.2 198.1M374.4 262.5L376.8 266.6M369.4 285.5L370.8 287.7M394.8 307.0L395.9 311.5M448.2 259.1L447.1 262.2M431.9 289.9L430.3 293.0M436.3 276.7L436.3 279.8M436.9 264.3L435.4 266.6M411.2 305.6L411.4 310.7M415.7 293.5L416.2 296.1M444.1 304.8L440.5 309.4M383.0 186.0L382.9 183.4M369.6 238.5L366.3 241.3M447.0 298.8L445.0 301.0M407.1 315.0L406.3 317.6M416.6 185.5L418.3 179.9M431.0 260.5L429.7 265.0M368.9 254.1L371.5 258.6M387.1 296.7L388.6 299.7M385.1 308.2L386.9 313.8M388.7 319.2L389.6 322.4M446.7 269.0L446.2 271.8M435.0 308.8L433.0 311.9M367.4 282.7L368.5 285.3M438.9 159.2L438.4 153.8M373.8 264.0L374.2 268.5M422.5 292.9L422.8 296.8M403.0 306.0L403.2 308.8M446.3 281.7L443.2 285.3M435.2 299.1L433.9 304.4M368.7 259.1L370.5 263.4M426.9 269.8L426.1 275.0M429.9 302.0L430.0 307.2M389.6 314.1L390.6 318.2M393.7 318.9L395.7 322.8M419.7 189.6L420.4 187.2M437.7 270.6L435.9 273.7M442.9 255.0L442.4 260.2M450.0 273.5L447.0 278.1M423.0 318.4L422.8 321.5M419.8 296.5L419.0 300.2M424.3 293.2L424.6 298.3M414.1 292.8L414.5 297.1M441.3 301.9L440.8 305.9M377.8 219.2L373.1 218.9M426.8 214.2L432.0 213.4M436.8 299.4L435.2 303.1M394.7 313.6L395.3 317.1M406.1 294.2L405.0 297.1M401.3 317.3L402.8 322.3M434.5 304.3L431.9 308.3M401.7 314.9L402.7 319.2M428.7 305.0L427.7 309.8M407.9 200.2L409.4 196.5M414.9 290.4L415.4 295.5M387.3 315.3L386.8 318.7M376.7 215.8L374.2 215.3M400.5 297.0L400.3 300.0M408.9 190.5L411.0 186.3M375.7 259.6L378.5 263.4M384.9 282.6L387.0 285.9M420.9 308.1L418.5 313.2M442.3 186.5L442.3 182.1M426.3 305.5L426.2 309.7M396.7 301.7L395.9 306.5M360.5 168.5L360.0 163.4M378.8 270.1L379.9 274.8M370.7 267.0L372.6 269.8M396.7 313.0L398.3 317.5M420.9 269.9L420.8 274.1M407.9 314.4L408.7 317.8M446.2 306.5L443.6 309.7M351.1 155.5L351.0 150.8M420.4 311.0L419.9 315.0M440.9 273.3L439.4 277.1M441.8 250.0L445.0 252.5M430.7 309.7L428.8 313.7M369.2 293.5L370.2 296.2M439.9 157.0L440.0 154.1M427.2 247.9L430.4 252.5M433.1 166.1L433.7 162.4M425.6 308.4L424.2 310.9M436.7 171.6L439.2 167.1M427.6 310.8L427.5 315.5M392.8 306.3L392.2 309.9M361.1 226.9L358.1 226.5M368.6 272.2L368.8 278.1M365.2 173.3L363.9 168.5M417.5 268.5L416.5 271.5M357.8 193.1L353.7 191.9M379.3 270.8L380.4 273.2M430.2 241.4L432.6 243.6M377.2 263.2L377.8 266.0M448.5 270.3L444.6 274.1M372.1 283.6L373.2 286.8M410.8 311.5L409.6 314.9M416.2 294.9L416.0 298.8M363.2 253.3L364.9 256.4M452.4 294.6L449.4 297.6M432.5 162.6L434.3 157.2M428.3 294.3L428.2 297.1M411.0 292.6L409.2 298.2M362.1 171.7L360.7 168.8M423.2 287.0L422.2 289.8M364.7 262.9L366.2 267.9M409.9 189.2L411.6 183.9M451.1 275.1L449.1 278.4M427.4 287.4L424.5 292.3M362.1 190.5L359.3 188.3M404.1 311.1L404.9 315.4M389.4 312.1L391.1 315.7M424.3 293.9L421.8 298.8M397.9 297.0L399.5 302.8M425.7 291.2L424.2 294.0M430.9 272.1L429.1 275.8M436.4 249.8L439.8 252.2M420.2 265.6L418.3 270.4M454.1 301.8L452.1 305.9M397.4 298.9L397.2 302.6M392.6 301.4L392.5 305.3M417.1 264.9L416.6 268.8M405.7 300.5L404.4 306.1M436.5 303.7L436.4 309.2M371.7 279.0L373.5 282.0M402.6 299.9L403.3 304.4M441.6 302.3L439.3 307.2M429.2 273.5L429.3 276.5M454.3 292.5L453.1 297.3M416.4 304.8L416.2 307.9M431.5 238.4L435.3 240.0M398.7 320.8L399.9 324.5M416.8 318.9L415.8 322.6M422.4 269.8L422.1 275.0M370.6 241.0L368.2 242.2M440.8 237.9L445.8 240.5M448.7 272.1L447.5 274.8M374.9 266.9L375.0 269.6M384.1 284.2L383.8 287.9M421.9 262.5L421.7 267.2M416.9 303.8L417.9 308.1M433.7 289.9L433.4 293.6M407.1 296.6L406.4 299.1M377.2 222.3L372.2 223.3M411.8 293.9L411.8 296.9M448.3 271.2L447.2 274.1M406.5 306.0L405.2 310.1M433.9 267.7L433.2 272.7M424.7 295.1L422.6 299.2M387.1 315.3L388.7 320.7M377.4 249.7L374.0 252.6M419.0 313.6L417.6 317.7M372.7 258.6L374.0 261.7M422.7 216.5L427.0 216.1M359.7 180.7L357.8 175.3M446.0 281.8L443.3 285.4M426.8 291.2L425.9 295.9M435.1 287.8L433.2 291.3M371.4 275.4L374.1 279.2M392.0 317.3L392.2 321.6M425.8 299.0L424.1 304.4M385.4 286.0L386.8 289.6M431.1 276.9L431.3 280.3M419.3 281.9L419.8 286.0M439.1 159.8L439.2 157.0M449.7 265.5L448.1 269.7M369.8 279.2L370.2 283.5M417.2 268.0L416.1 270.5M432.7 273.6L431.1 279.2M417.8 313.3L416.6 319.1M421.5 262.1L421.0 266.7M371.9 313.1L372.1 317.4M414.9 304.9L413.5 308.4M437.0 158.1L437.3 154.5M412.7 307.0L413.0 310.1M371.5 243.9L368.0 246.4M448.2 284.5L445.8 289.4M445.2 248.1L448.3 251.1M419.2 307.2L417.2 311.7M381.0 315.8L382.6 318.7"/>
<path stroke="rgb(150,150,150)" stroke-opacity="0.65" d="M424.9 174.8L426.6 170.8M387.5 301.2L389.2 304.7M372.8 282.7L373.0 287.6M422.7 218.4L428.3 219.3M424.7 255.2L424.5 258.5M451.9 297.1L448.1 301.3M442.3 255.0L441.4 260.1M384.5 311.0L385.6 313.3M388.6 302.0L389.3 306.2M377.1 318.0L379.7 323.0M419.0 318.0L419.3 323.0M432.3 291.2L430.9 294.0M454.2 269.0L452.9 273.2M448.1 304.3L447.5 307.1M370.8 272.4L372.9 275.6M410.9 311.1L411.1 314.6M375.2 278.5L377.5 282.4M419.2 265.9L419.0 269.0M372.3 263.0L374.5 268.3M433.5 174.4L433.6 171.8M363.9 178.2L360.9 173.5M452.8 298.9L451.4 304.0M427.6 299.7L425.1 304.6M445.8 294.3L445.5 297.4M376.9 217.1L371.5 217.1M367.3 269.4L367.6 273.4M441.1 300.7L438.4 305.3M402.0 307.0L402.4 309.6M415.3 319.8L414.5 322.4M429.6 243.8L432.2 246.6M423.7 257.9L423.1 263.6M419.8 290.5L419.1 295.8M422.3 224.0L425.6 223.6M367.7 284.9L368.0 289.5M423.5 310.5L421.3 315.0M433.5 247.7L436.2 249.8M420.7 312.0L420.9 315.2M443.1 278.5L442.7 284.0M366.3 258.2L369.3 262.3M401.9 315.3L401.6 321.1M451.3 299.9L447.2 303.7M448.4 261.8L446.4 263.9M398.3 310.7L398.2 316.4M417.8 319.3L418.3 322.3M447.7 301.9L444.2 305.8M407.1 308.9L407.1 313.7M370.9 173.7L370.8 170.6M426.9 261.2L426.3 263.9M382.5 293.1L382.3 296.4M415.1 308.3L414.6 312.0M395.6 300.2L395.5 302.9M368.2 266.6L369.5 269.4M436.4 248.4L439.7 250.5M426.6 168.3L427.5 165.9M414.4 310.1L414.3 313.8M395.4 314.9L396.3 317.7M372.5 283.1L374.2 285.2M387.8 305.1L387.8 308.1M424.3 314.5L424.4 319.4M373.1 250.2L373.5 253.9M428.7 251.0L428.5 254.3M421.9 310.3L421.6 315.9M414.6 296.9L414.6 302.1M384.8 298.2L384.6 301.2M417.3 287.6L415.6 293.2M360.5 178.1L359.7 174.6M437.5 280.4L436.0 283.2M367.2 250.8L368.1 253.7M415.0 307.1L415.1 310.4M424.9 273.4L422.3 278.4M385.1 314.2L385.7 317.3M360.9 184.1L359.1 179.0M361.1 232.6L357.4 234.9M422.3 227.7L427.2 227.6M444.5 266.5L442.7 269.3M374.8 269.3L376.0 272.0M443.2 301.2L440.7 304.2M412.1 288.2L410.5 293.1M371.0 221.2L365.8 220.1M383.4 281.0L385.2 285.9M430.7 312.1L429.5 314.5M352.2 168.2L350.5 162.7M432.7 163.8L432.6 158.9M436.7 245.6L440.4 248.0M434.7 314.7L432.5 319.2M448.6 265.6L447.8 269.9M387.5 315.5L388.1 318.0M372.7 250.1L374.5 255.4M431.4 273.5L430.0 278.7M414.1 307.3L415.4 312.5M392.0 298.4L393.0 302.3M415.2 313.9L412.9 318.8M458.4 281.7L456.0 284.0M443.1 294.5L441.0 298.4M429.7 280.7L429.4 284.3M390.3 299.3L391.7 303.0M371.7 277.4L375.1 281.4M434.9 301.3L432.5 305.9M385.9 295.8L387.4 301.3M384.1 315.7L383.9 319.9M390.6 296.5L393.3 301.9M434.7 160.1L434.9 155.1M363.0 241.7L361.0 243.6M368.0 268.1L369.9 273.7M439.8 293.5L438.0 297.9M396.1 310.8L395.5 315.6M419.1 269.4L418.9 274.0M452.0 298.8L451.5 301.7M434.9 313.3L435.0 318.0M426.9 294.7L426.5 298.3M455.5 277.0L454.3 281.8M437.0 209.9L442.3 208.7M428.3 245.8L431.2 249.2M398.0 319.7L398.3 323.8M448.8 273.0L447.3 278.6M442.1 299.6L440.8 303.6M424.5 247.8L428.7 251.5M433.5 276.3L433.1 281.3M374.5 251.0L377.7 255.3M424.7 260.7L424.3 263.7M430.6 284.0L430.4 289.0M445.3 303.4L444.3 305.8M432.8 307.9L430.9 311.3M423.0 306.4L421.5 309.5M442.2 295.4L441.6 300.4M374.7 252.1L374.7 257.2M434.5 160.1L434.5 155.5M360.8 182.9L358.0 178.0M366.7 252.4L368.3 257.4M427.2 299.3L427.4 304.8M395.8 308.9L396.8 311.6M364.2 259.8L366.8 262.5M372.4 270.5L372.3 275.1M369.4 249.9L364.7 252.6M379.8 277.3L382.5 281.2M430.9 299.3L428.7 303.4M422.6 292.0L422.6 294.9M374.2 270.9L375.8 273.4M367.0 285.5L369.1 291.0M438.3 167.0L439.5 162.6M435.8 176.9L436.5 171.4M371.5 302.8L372.7 306.4M424.2 266.7L422.5 269.9M439.3 311.7L438.4 314.4M410.1 314.7L409.7 319.6M437.0 218.2L440.5 217.4M426.3 267.8L424.8 271.9M394.4 311.1L395.4 314.8M361.5 192.7L357.8 188.2M400.3 297.8L400.4 301.8M436.2 175.7L436.0 171.4M389.2 175.7L386.4 171.2M363.2 254.1L364.7 256.1M416.9 315.4L416.2 318.9M423.7 299.1L422.8 304.6M369.0 177.2L368.8 172.9M423.9 317.4L422.6 319.6M439.2 292.8L436.0 297.8M432.4 276.4L432.7 280.4M384.1 297.2L385.1 299.9M432.7 237.6L435.8 239.2M428.0 263.5L426.8 267.5M364.3 244.1L360.9 245.7M401.4 309.4L400.9 312.5M366.6 168.8L366.5 164.0M427.0 306.7L426.0 309.4M437.3 255.3L437.3 260.3M443.7 249.0L447.7 251.1M421.2 271.4L419.8 274.5M408.9 311.7L408.8 314.4M425.4 318.5L423.3 321.8M371.3 246.4L369.2 248.1M379.4 309.2L380.1 314.3M430.1 279.4L428.3 283.3M383.2 313.9L385.5 318.6M352.7 147.2L351.2 143.9M397.1 306.2L396.4 309.0M405.1 304.2L405.7 308.1M441.3 291.3L438.8 295.4M432.1 276.5L430.5 281.4M373.5 261.6L374.3 266.7M447.8 302.3L446.7 305.3M435.1 252.3L433.0 255.8M361.7 187.8L361.4 182.3M451.6 272.4L449.5 276.2M388.4 318.5L389.9 324.0M443.5 291.6L442.7 294.2M416.9 286.4L416.0 289.0M438.2 167.9L439.7 163.5M362.3 229.8L359.3 230.2M440.6 252.1L439.0 256.0M369.9 250.7L370.5 255.3M414.3 320.8L414.0 324.6M446.0 254.0L445.5 258.5M431.3 296.1L431.0 298.6M433.5 161.5L436.3 156.4M372.8 282.7L374.9 286.1M426.9 251.8L425.1 255.7M371.1 258.6L372.8 262.2M446.1 254.5L445.2 256.9M373.6 262.1L374.5 267.5M358.7 167.7L356.5 162.3M427.1 249.7L430.3 251.7M414.2 290.3L413.0 293.4M425.1 260.5L425.2 264.7M447.0 299.0L446.3 304.8M425.3 318.3L425.5 322.5M416.1 315.2L414.7 318.5M391.4 320.5L392.6 324.0M437.8 175.9L438.7 171.3M432.7 281.5L430.1 285.6M367.0 246.7L362.4 249.8M428.6 269.3L428.2 274.7M408.8 318.7L407.9 321.1M443.5 290.8L441.9 295.0M383.4 319.1L384.6 321.4M442.7 187.4L445.2 183.3M359.1 170.7L358.3 167.9M384.1 299.3L384.4 302.8M351.6 154.1L351.4 148.4M361.0 168.8L360.4 163.2M427.1 295.3L427.1 298.5M396.4 306.6L396.4 312.2M372.8 280.2L374.0 282.5M429.5 313.0L429.3 316.7M439.7 261.5L436.3 265.6M382.4 314.8L383.5 318.7M373.2 251.9L375.2 254.8M419.3 291.3L417.8 294.1M421.3 313.5L420.0 316.4M374.8 316.8L376.4 319.0M447.6 252.0L444.8 255.4M370.3 244.9L366.4 246.6M392.3 298.8L393.7 304.0M416.9 290.9L416.8 295.6M451.2 279.9L448.3 285.0M409.1 306.6L407.5 310.5M439.2 286.1L437.3 289.4M427.1 152.2L429.1 147.2M382.4 282.6L382.3 288.1M393.8 310.6L393.9 315.5M417.1 292.8L416.5 295.3M415.1 280.8L414.7 283.4M429.0 286.8L429.3 290.0M399.9 305.1L401.1 309.1M432.7 274.2L431.8 277.5"/>
<path stroke="rgb(162,162,162)" stroke-opacity="0.65" d="M437.0 275.4L434.6 278.6M434.8 251.2L433.7 255.4M408.0 320.4L406.9 323.5M361.7 230.5L358.2 230.8M403.2 308.4L404.2 312.5M361.2 192.4L359.0 190.3M373.5 288.1L375.7 291.5M438.4 307.3L437.8 310.8M379.7 297.2L382.2 301.9M437.0 257.7L434.3 262.9M375.6 283.6L377.4 289.1M363.0 248.5L359.8 253.0M420.7 266.5L421.1 271.5M380.0 312.2L380.8 315.7M421.8 296.4L421.8 302.0M373.3 247.5L369.1 251.6M433.4 299.5L432.5 302.2M392.4 299.3L393.7 303.4M378.0 278.0L378.9 281.1M369.2 294.2L369.9 299.2M364.2 175.2L364.2 169.4M426.2 216.9L430.1 215.7M392.8 304.1L393.8 307.9M431.1 249.4L433.6 251.8M418.5 274.7L418.0 278.3M432.0 236.7L437.6 237.3M359.2 162.1L358.7 159.6M423.0 287.8L423.6 292.0M422.9 293.0L423.2 297.2M362.3 245.7L358.0 249.7M411.7 313.1L411.6 316.4M376.3 287.1L377.0 291.7M413.6 310.8L413.0 316.6M361.3 171.0L361.1 168.1M428.4 290.3L427.3 292.6M446.4 275.7L444.6 277.5M433.7 235.5L437.5 236.2M451.4 278.0L450.2 280.8M434.7 309.1L433.8 312.8M450.9 300.0L447.3 304.4M373.8 313.0L374.4 317.0M436.0 287.0L433.9 292.5M399.5 311.5L398.7 317.1M398.2 320.6L399.2 326.0M429.7 280.8L428.0 285.4M381.6 298.5L382.0 302.8M440.3 237.7L443.1 239.0M421.8 304.6L420.4 308.1M362.4 174.9L359.3 170.5M402.4 229.3L403.7 232.5M363.8 237.0L361.1 238.6M444.6 294.3L442.4 297.2M419.4 294.9L418.2 299.5M431.6 169.9L433.0 166.6M446.3 277.2L445.8 281.8M444.1 309.6L440.5 314.3M394.3 304.1L395.6 309.4M383.4 295.9L383.8 299.4M420.9 283.4L420.7 286.2M444.8 268.1L443.8 272.4M431.5 241.8L434.0 244.3M440.8 247.4L444.5 250.2M414.4 297.5L412.5 302.5M427.5 306.2L425.5 310.7M385.3 306.3L387.6 311.0M414.3 292.2L412.6 296.4M437.3 306.9L434.4 311.0M398.4 302.2L398.4 308.2M426.7 225.0L431.3 224.7M423.1 308.8L421.8 312.2M439.2 304.4L438.5 306.9M443.7 152.4L445.5 148.5M413.6 309.0L414.2 313.6M435.3 295.4L432.5 299.0M448.5 296.9L444.7 300.5M374.8 293.0L374.8 295.5M369.9 297.8L370.7 301.7M433.1 289.5L433.0 294.9M438.3 305.5L436.5 308.6M435.1 304.2L434.9 309.8M413.2 297.2L413.0 301.3M378.7 315.5L381.4 320.6M437.3 280.7L436.7 283.9M441.3 251.2L438.4 254.7M411.4 313.4L411.4 316.2M365.5 271.9L366.4 277.0M367.4 248.4L362.2 250.5M388.3 175.7L386.8 173.0M436.2 247.2L438.6 248.2M374.9 306.0L375.1 310.4M426.6 218.7L432.1 217.2M422.4 282.6L421.7 286.9M427.9 301.1L426.5 303.4M437.9 278.1L435.4 282.8M360.1 172.5L357.9 169.4M377.9 307.6L380.1 313.2M361.3 179.0L361.5 174.4M362.3 240.8L358.3 241.3M386.0 303.8L388.8 308.7M438.7 172.8L440.5 169.9M382.8 303.9L384.7 309.3M408.8 306.5L408.8 311.8M429.6 304.2L427.9 308.5M394.7 318.5L396.0 321.7M438.7 245.9L442.1 250.0M377.8 292.2L378.3 294.9M360.8 189.4L359.2 186.1M373.1 292.6L374.4 297.2M422.4 275.6L420.8 278.3M359.6 170.8L357.5 165.5M384.6 303.5L384.6 306.2M372.1 280.5L373.1 283.5M395.7 299.9L397.8 305.5M424.2 274.2L423.1 279.3M373.3 224.9L370.6 224.5M437.4 247.2L440.8 248.7M372.8 216.4L370.2 215.9M438.2 288.6L438.2 292.7M411.0 292.3L410.4 295.9M377.0 221.8L372.7 222.5M425.7 286.0L424.3 290.1M437.7 291.8L435.0 296.3M440.4 292.3L439.5 296.1M377.9 292.5L379.7 297.0M388.6 311.9L390.5 317.5M436.5 302.4L435.0 306.3M431.7 273.0L431.8 276.2M437.1 306.3L436.5 310.2M438.6 247.5L441.2 249.6M454.9 277.6L452.4 282.7M437.8 284.1L437.1 288.0M432.2 255.7L432.0 258.9M430.7 315.1L429.7 318.9M379.6 309.9L381.0 315.3M436.0 273.9L434.1 276.6M403.4 231.7L406.1 235.1M403.5 304.1L404.5 307.8M425.9 174.9L426.8 172.4M372.4 290.7L374.1 295.4M428.5 300.8L426.7 304.7M376.9 282.6L378.2 285.3M427.0 307.4L425.3 310.9M374.3 302.0L374.6 305.5M443.5 295.2L441.3 299.2M445.9 263.4L443.5 267.7M367.6 240.4L364.9 241.3M366.2 176.2L364.6 174.1M439.0 257.0L437.5 261.7M422.7 294.5L422.2 298.4M423.6 262.9L422.3 265.4M437.1 281.7L436.9 284.6M425.1 271.7L423.7 276.0M439.5 283.3L437.6 288.9M391.2 300.5L393.2 305.8M423.2 221.9L425.7 221.1M438.7 260.9L437.8 265.4M431.0 289.2L430.2 294.8M362.5 174.4L361.8 170.5M438.9 260.5L437.1 263.1M411.6 302.5L412.6 306.6M360.6 164.9L358.9 160.7M368.6 241.5L363.7 244.0M433.0 245.1L437.1 249.3M409.9 310.2L409.7 314.9M358.8 196.4L356.1 195.2M369.7 238.5L366.5 239.9M375.0 308.4L375.8 312.3M374.5 316.7L375.7 319.2M438.5 295.5L437.7 298.5M385.2 291.9L385.2 295.9M413.7 295.5L413.8 299.0M426.5 286.0L426.2 290.5M362.3 190.6L358.3 187.8M445.2 272.8L443.9 275.1M416.5 298.6L416.4 301.2M445.6 248.2L449.2 249.1M380.5 316.3L380.5 320.0M438.9 237.9L443.3 239.2M418.3 284.9L419.3 290.3M423.9 298.1L423.3 302.2M354.4 182.6L351.3 177.7M364.8 168.9L363.0 165.6M414.7 286.3L415.3 291.6M425.5 317.3L424.5 322.6M443.8 270.2L441.5 275.2M422.5 284.8L422.5 287.5M430.3 303.3L428.7 306.6M447.3 300.2L444.3 304.8M401.6 317.9L402.1 320.8M365.5 171.4L365.0 168.7M436.7 294.5L435.4 299.1M420.6 309.9L420.6 313.5M404.1 314.9L405.2 318.2M386.8 313.0L388.3 317.4M415.6 168.4L416.8 166.1M452.7 282.9L451.9 285.7"/>
<path stroke="rgb(174,174,174)" stroke-opacity="0.65" d="M359.1 164.1L356.3 158.9M366.3 237.0L360.8 237.6M422.8 225.8L425.8 225.2M432.0 265.3L430.4 267.5M371.2 291.3L374.2 295.4M369.0 296.9L369.8 302.8M381.1 296.2L382.2 299.2M375.9 308.6L375.7 313.9M436.9 235.7L440.2 238.3M444.9 279.9L443.5 282.7M429.9 259.4L427.9 264.4M433.7 247.6L437.4 249.1M434.3 165.3L436.3 162.0M387.0 303.7L386.7 308.8M427.4 254.6L426.7 258.3M380.5 281.4L382.0 283.8M441.7 287.6L440.3 290.7M445.4 287.5L443.6 291.3M376.4 219.6L373.9 220.2M436.1 247.7L441.0 249.4M383.5 308.3L385.2 312.8M442.7 189.8L443.5 185.0M436.8 142.0L437.5 137.2M426.9 217.7L431.8 215.5M364.0 171.7L363.7 168.3M443.5 280.7L441.5 283.7M367.7 245.1L364.3 246.5M384.0 298.5L384.8 304.0M379.5 291.4L382.2 296.5M375.1 223.1L372.0 222.4M441.2 279.1L440.4 281.5M434.1 250.9L432.7 255.9M379.5 288.0L379.7 293.0M375.9 311.8L376.1 316.9M432.9 274.2L430.3 279.0M436.4 163.2L438.0 160.8M360.8 186.0L358.2 180.7M436.8 168.6L437.7 165.2M360.8 189.8L359.2 185.8M380.2 290.7L381.4 294.2M373.3 305.4L374.2 308.4M365.9 233.6L361.2 236.5M370.8 293.7L373.3 296.8M380.3 296.9L380.0 301.2M434.1 250.0L437.2 253.1M379.1 293.2L380.2 296.8M359.4 188.5L359.3 184.6M450.3 294.4L448.1 297.3M366.0 176.4L365.2 173.2M377.7 286.2L378.2 288.9M366.0 249.5L361.5 252.3M425.5 226.9L429.4 227.2M382.2 299.5L383.0 304.7M438.2 235.0L443.9 235.7M446.6 285.9L445.8 289.2M432.0 265.8L432.2 271.2M366.0 248.1L363.4 251.2M447.9 292.2L445.7 296.5M443.7 285.9L442.7 289.2M444.7 291.7L443.8 296.8M427.6 262.6L427.7 266.0M436.4 251.1L434.1 254.5M450.5 275.8L447.5 279.0M364.6 172.8L363.9 169.2M384.2 299.3L385.1 302.6M365.2 244.6L362.0 248.5M372.4 284.5L373.0 287.5M425.1 221.3L427.8 221.5M425.7 221.6L430.2 221.2M381.1 287.4L382.9 290.6M427.1 172.8L427.9 170.2M438.6 263.0L436.8 268.7M447.9 282.9L444.5 287.6M377.3 306.5L379.3 309.5M372.2 290.4L372.5 294.1M447.9 272.6L445.8 278.0M435.0 274.8L435.1 280.4M427.9 261.2L427.9 264.4M446.0 277.2L444.4 280.4M424.9 224.8L429.4 223.8M382.5 290.0L382.4 294.0M427.0 256.2L424.9 260.5M450.7 278.2L447.1 281.8M426.1 257.3L425.1 260.2M360.7 168.8L360.4 164.3M385.9 293.7L385.4 298.5M437.4 239.1L441.6 242.0M380.0 306.6L381.4 309.7M440.3 278.9L439.0 284.0M430.5 267.1L429.4 270.2M438.9 224.6L441.5 225.4M431.2 239.8L433.2 241.9M429.6 266.7L428.6 269.0M380.6 284.2L382.2 288.0M365.4 172.4L363.2 167.0M436.7 174.4L439.0 170.0M448.0 291.2L447.2 295.9M373.3 304.4L376.3 309.5M426.1 263.5L425.3 269.1M433.2 167.4L434.8 163.6M433.4 256.9L432.0 259.2M363.6 171.5L362.5 167.9"/>
<path stroke="rgb(186,186,186)" stroke-opacity="0.65" d="M434.3 259.4L434.3 264.1M377.3 292.3L378.7 295.1M445.2 283.2L442.9 286.9M381.3 288.1L384.2 292.5M423.4 222.7L427.8 221.7M426.7 260.3L425.3 265.0M376.3 296.0L376.3 298.9M377.2 295.0L377.0 298.7M375.7 222.0L370.4 223.8M383.2 287.9L385.1 292.8M422.8 223.1L428.5 221.7M380.8 296.3L383.1 300.1M375.2 218.7L371.8 217.6M381.1 292.9L383.1 295.8M427.3 260.5L426.6 263.9M449.3 291.5L448.1 293.7M431.4 168.7L431.7 164.8M375.0 292.6L376.0 298.4M373.2 303.1L374.6 306.2M397.7 231.6L396.1 235.1M447.7 285.6L447.0 290.6M375.7 303.1L376.6 308.9M372.6 292.7L374.2 295.9M379.6 293.0L380.1 297.5M446.5 277.0L445.7 281.1M444.2 275.2L442.0 278.6M382.6 286.9L384.5 292.5M375.0 295.1L376.9 299.1M446.2 286.8L444.2 292.1M444.4 289.8L444.0 293.6M365.9 168.0L364.3 163.6M448.7 297.8L446.9 301.8M382.9 295.7L385.1 299.0M436.7 158.7L436.5 155.5M446.0 276.9L443.8 282.0M351.2 152.2L349.8 149.4M437.4 241.8L442.7 244.5M375.8 287.2L376.6 292.5M365.3 239.4L360.2 240.8M432.2 255.0L430.1 258.1M445.5 287.3L444.4 290.6M441.5 271.8L439.6 274.5M446.3 275.9L445.9 280.0M436.1 273.0L435.3 276.4M365.9 271.8L367.1 274.1M438.5 270.0L437.8 273.9M453.4 265.7L450.4 270.1M451.6 260.8L449.9 263.1M374.1 293.1L374.8 298.8M423.3 223.4L427.2 225.0M441.3 280.0L440.9 284.8M429.0 253.8L427.7 256.1M433.4 269.3L431.9 273.3M437.3 243.3L439.5 245.7M376.9 284.7L378.3 288.2M428.9 254.7L428.1 258.2M365.7 245.8L361.4 247.3M432.7 257.8L432.8 261.5M375.4 304.3L375.9 308.8M379.7 286.5L380.0 289.6"/>
<path stroke="rgb(198,198,198)" stroke-opacity="0.65" d="M449.8 290.7L448.5 293.0M432.2 262.2L430.3 266.9M457.7 274.5L455.4 278.9M439.1 265.5L437.7 270.7M347.6 299.8L349.5 303.0M436.4 264.3L435.2 268.0M435.9 162.6L435.6 157.4M379.4 303.7L380.1 306.6M432.8 262.3L432.2 265.6M450.1 289.6L446.5 294.3M450.5 289.8L447.5 293.5M360.9 203.7L358.5 202.8M436.5 265.1L435.0 267.2M447.0 249.9L452.2 251.9M374.2 223.3L369.5 224.0M426.0 218.9L428.7 218.7M433.7 261.3L432.5 266.5M446.6 281.2L445.8 285.9M424.0 226.6L427.0 228.2M442.9 188.4L443.4 182.9M443.4 276.8L441.3 279.9M369.4 302.4L369.9 306.8M425.3 218.4L431.1 218.1M434.8 261.7L434.6 266.7M443.0 152.0L444.3 147.2M429.2 259.0L428.6 261.6M375.0 223.8L371.8 224.5"/>
<path stroke="rgb(210,210,210)" stroke-opacity="0.65" d="M441.9 271.6L439.3 274.5M435.2 262.5L433.2 266.2M440.3 271.9L439.1 276.2M439.8 269.8L436.9 273.9M444.4 279.6L442.5 282.6M432.4 262.5L430.1 268.0M451.2 261.5L448.1 266.5M441.4 236.3L444.3 236.8M366.6 171.9L366.8 168.9M369.9 303.0L371.3 307.7M364.2 166.9L362.3 163.5"/>
<path stroke="rgb(222,222,222)" stroke-opacity="0.65" d="M440.3 271.7L438.8 276.6M367.6 287.2L369.3 290.0M361.4 210.0L357.1 208.6M370.0 310.9L370.6 314.8M426.4 153.6L427.3 150.4M361.7 211.8L357.3 210.1M459.2 278.7L458.0 283.1"/>
<path stroke="rgb(234,234,234)" stroke-opacity="0.65" d="M360.0 186.1L357.9 181.0M367.9 151.8L368.1 147.5"/>
<path stroke="rgb(246,246,246)" stroke-opacity="0.65" d="M453.1 265.6L452.0 268.5M441.7 194.4L443.7 192.0M358.4 184.7L358.1 181.0M463.3 283.1L458.9 286.5M418.0 165.3L420.4 160.7M369.3 153.1L368.0 150.8M439.2 227.9L444.5 230.0M457.4 274.7L455.1 277.6M367.2 288.4L368.7 292.4"/>
<path stroke="rgb(258,258,258)" stroke-opacity="0.65" d="M424.2 156.0L424.6 152.7M351.2 151.1L350.7 148.4M441.2 235.6L443.9 236.8M448.4 253.1L445.4 257.5M360.9 203.8L356.1 200.7M351.5 159.6L349.3 156.1M360.3 187.8L358.7 185.0M372.2 156.5L371.4 153.9M368.9 298.7L369.0 303.1M442.6 238.4L446.5 239.4M363.1 147.4L360.1 143.0M432.1 143.3L432.2 139.5"/>
</g>
<!-- eyebrows -->
<path d="M376,197 C377,189 383,185 388,186.5 C392,189 393,196 392.5,205" stroke="#6c6c6c" stroke-width="3.4" fill="none" filter="url(#bl2s)"/>
<path d="M424,197 C423,189 417,185 412,186.5 C408,189 407,196 407.5,205" stroke="#6c6c6c" stroke-width="3.4" fill="none" filter="url(#bl2s)"/>
<path d="M400,180 V206" stroke="#1c1c1c" stroke-width="3" filter="url(#bl05)"/>
<!-- eyes -->
<ellipse cx="382" cy="202" rx="3.4" ry="2.4" fill="#5c5c5c" filter="url(#bl05)"/>
<ellipse cx="415.2" cy="202" rx="3.4" ry="2.4" fill="#5c5c5c" filter="url(#bl05)"/>
<circle cx="382" cy="202" r="1.5" fill="#8a8a8a"/>
<circle cx="415.2" cy="202" r="1.5" fill="#8a8a8a"/>
<circle cx="382" cy="202" r="0.8" fill="#111"/>
<circle cx="415.2" cy="202" r="0.8" fill="#111"/>
<!-- nose -->
<ellipse cx="400" cy="228" rx="9" ry="7" fill="#121212" filter="url(#bl05)"/>
<ellipse cx="400" cy="230.5" rx="5.2" ry="1.6" fill="#9c9c9c" filter="url(#bl05)"/>
<path d="M386,247.5 Q400,243.5 414,247.5" stroke="#5e5e5e" stroke-width="1.2" fill="none" filter="url(#bl05)"/>
</g>
</g>

<text transform="matrix(0.5956,0,0,1,79.10,342.3)" x="0" y="0" font-size="26.31" font-weight="bold" fill="#5b5b5b" stroke="#5b5b5b" stroke-width="0.600" vector-effect="non-scaling-stroke">D</text><text transform="matrix(0.5922,0,0,1,91.89,342.3)" x="0" y="0" font-size="26.31" font-weight="bold" fill="#5b5b5b" stroke="#5b5b5b" stroke-width="0.600" vector-effect="non-scaling-stroke">o</text><text transform="matrix(0.5971,0,0,1,102.46,342.3)" x="0" y="0" font-size="26.31" font-weight="bold" fill="#5b5b5b" stroke="#5b5b5b" stroke-width="0.600" vector-effect="non-scaling-stroke">g</text><text transform="matrix(0.7304,0,0,1,64.38,372.3)" x="0" y="0" font-size="26.31" font-weight="bold" fill="#5b5b5b" stroke="#5b5b5b" stroke-width="0.600" vector-effect="non-scaling-stroke">W</text><text transform="matrix(0.6218,0,0,1,84.16,372.3)" x="0" y="0" font-size="26.31" font-weight="bold" fill="#5b5b5b" stroke="#5b5b5b" stroke-width="0.600" vector-effect="non-scaling-stroke">e</text><text transform="matrix(0.6372,0,0,1,94.33,372.3)" x="0" y="0" font-size="26.31" font-weight="bold" fill="#5b5b5b" stroke="#5b5b5b" stroke-width="0.600" vector-effect="non-scaling-stroke">i</text><text transform="matrix(0.5971,0,0,1,99.46,372.3)" x="0" y="0" font-size="26.31" font-weight="bold" fill="#5b5b5b" stroke="#5b5b5b" stroke-width="0.600" vector-effect="non-scaling-stroke">g</text><text transform="matrix(0.5951,0,0,1,110.11,372.3)" x="0" y="0" font-size="26.31" font-weight="bold" fill="#5b5b5b" stroke="#5b5b5b" stroke-width="0.600" vector-effect="non-scaling-stroke">h</text><text transform="matrix(0.7021,0,0,1,120.77,372.3)" x="0" y="0" font-size="26.31" font-weight="bold" fill="#5b5b5b" stroke="#5b5b5b" stroke-width="0.600" vector-effect="non-scaling-stroke">t</text><text transform="matrix(0.5555,0,0,1,187.22,372.3)" x="0" y="0" font-size="26.31" font-weight="bold" fill="#5b5b5b" stroke="#5b5b5b" stroke-width="0.600" vector-effect="non-scaling-stroke">L</text><text transform="matrix(0.4923,0,0,1,198.04,372.3)" x="0" y="0" font-size="26.31" font-weight="bold" fill="#5b5b5b" stroke="#5b5b5b" stroke-width="0.600" vector-effect="non-scaling-stroke">o</text><text transform="matrix(0.6799,0,0,1,208.35,372.3)" x="0" y="0" font-size="26.31" font-weight="bold" fill="#5b5b5b" stroke="#5b5b5b" stroke-width="0.600" vector-effect="non-scaling-stroke">w</text><text transform="matrix(0.6884,0,0,1,228.10,372.3)" x="0" y="0" font-size="26.31" font-weight="bold" fill="#5b5b5b" stroke="#5b5b5b" stroke-width="0.600" vector-effect="non-scaling-stroke">A</text><text transform="matrix(0.6117,0,0,1,240.97,372.3)" x="0" y="0" font-size="26.31" font-weight="bold" fill="#5b5b5b" stroke="#5b5b5b" stroke-width="0.600" vector-effect="non-scaling-stroke">c</text><text transform="matrix(0.6651,0,0,1,252.09,372.3)" x="0" y="0" font-size="26.31" font-weight="bold" fill="#5b5b5b" stroke="#5b5b5b" stroke-width="0.600" vector-effect="non-scaling-stroke">t</text><text transform="matrix(0.5541,0,0,1,259.18,372.3)" x="0" y="0" font-size="26.31" font-weight="bold" fill="#5b5b5b" stroke="#5b5b5b" stroke-width="0.600" vector-effect="non-scaling-stroke">i</text><text transform="matrix(0.6348,0,0,1,263.48,372.3)" x="0" y="0" font-size="26.31" font-weight="bold" fill="#5b5b5b" stroke="#5b5b5b" stroke-width="0.600" vector-effect="non-scaling-stroke">v</text><text transform="matrix(0.6649,0,0,1,274.33,372.3)" x="0" y="0" font-size="26.31" font-weight="bold" fill="#5b5b5b" stroke="#5b5b5b" stroke-width="0.600" vector-effect="non-scaling-stroke">i</text><text transform="matrix(0.6651,0,0,1,280.99,372.3)" x="0" y="0" font-size="26.31" font-weight="bold" fill="#5b5b5b" stroke="#5b5b5b" stroke-width="0.600" vector-effect="non-scaling-stroke">t</text><text transform="matrix(0.6685,0,0,1,287.76,372.3)" x="0" y="0" font-size="26.31" font-weight="bold" fill="#5b5b5b" stroke="#5b5b5b" stroke-width="0.600" vector-effect="non-scaling-stroke">y</text><text transform="matrix(0.6822,0,0,1,360.85,372.3)" x="0" y="0" font-size="26.31" font-weight="bold" fill="#5b5b5b" stroke="#5b5b5b" stroke-width="0.600" vector-effect="non-scaling-stroke">M</text><text transform="matrix(0.6415,0,0,1,376.39,372.3)" x="0" y="0" font-size="26.31" font-weight="bold" fill="#5b5b5b" stroke="#5b5b5b" stroke-width="0.600" vector-effect="non-scaling-stroke">e</text><text transform="matrix(0.5657,0,0,1,387.69,372.3)" x="0" y="0" font-size="26.31" font-weight="bold" fill="#5b5b5b" stroke="#5b5b5b" stroke-width="0.600" vector-effect="non-scaling-stroke">d</text><text transform="matrix(0.7203,0,0,1,397.78,372.3)" x="0" y="0" font-size="26.31" font-weight="bold" fill="#5b5b5b" stroke="#5b5b5b" stroke-width="0.600" vector-effect="non-scaling-stroke">i</text><text transform="matrix(0.6218,0,0,1,403.54,372.3)" x="0" y="0" font-size="26.31" font-weight="bold" fill="#5b5b5b" stroke="#5b5b5b" stroke-width="0.600" vector-effect="non-scaling-stroke">u</text><text transform="matrix(0.6816,0,0,1,414.37,372.3)" x="0" y="0" font-size="26.31" font-weight="bold" fill="#5b5b5b" stroke="#5b5b5b" stroke-width="0.600" vector-effect="non-scaling-stroke">m</text><text transform="matrix(0.6176,0,0,1,436.50,372.3)" x="0" y="0" font-size="26.31" font-weight="bold" fill="#5b5b5b" stroke="#5b5b5b" stroke-width="0.600" vector-effect="non-scaling-stroke">A</text><text transform="matrix(0.6234,0,0,1,449.06,372.3)" x="0" y="0" font-size="26.31" font-weight="bold" fill="#5b5b5b" stroke="#5b5b5b" stroke-width="0.600" vector-effect="non-scaling-stroke">c</text><text transform="matrix(0.6898,0,0,1,459.58,372.3)" x="0" y="0" font-size="26.31" font-weight="bold" fill="#5b5b5b" stroke="#5b5b5b" stroke-width="0.600" vector-effect="non-scaling-stroke">t</text><text transform="matrix(0.7480,0,0,1,466.53,372.3)" x="0" y="0" font-size="26.31" font-weight="bold" fill="#5b5b5b" stroke="#5b5b5b" stroke-width="0.600" vector-effect="non-scaling-stroke">i</text><text transform="matrix(0.6522,0,0,1,472.13,372.3)" x="0" y="0" font-size="26.31" font-weight="bold" fill="#5b5b5b" stroke="#5b5b5b" stroke-width="0.600" vector-effect="non-scaling-stroke">v</text><text transform="matrix(0.8311,0,0,1,481.97,372.3)" x="0" y="0" font-size="26.31" font-weight="bold" fill="#5b5b5b" stroke="#5b5b5b" stroke-width="0.600" vector-effect="non-scaling-stroke">i</text><text transform="matrix(0.7514,0,0,1,488.26,372.3)" x="0" y="0" font-size="26.31" font-weight="bold" fill="#5b5b5b" stroke="#5b5b5b" stroke-width="0.600" vector-effect="non-scaling-stroke">t</text><text transform="matrix(0.6580,0,0,1,496.16,372.3)" x="0" y="0" font-size="26.31" font-weight="bold" fill="#5b5b5b" stroke="#5b5b5b" stroke-width="0.600" vector-effect="non-scaling-stroke">y</text><text transform="matrix(0.5916,0,0,1,567.01,372.3)" x="0" y="0" font-size="26.31" font-weight="bold" fill="#5b5b5b" stroke="#5b5b5b" stroke-width="0.600" vector-effect="non-scaling-stroke">H</text><text transform="matrix(0.5679,0,0,1,579.36,372.3)" x="0" y="0" font-size="26.31" font-weight="bold" fill="#5b5b5b" stroke="#5b5b5b" stroke-width="0.600" vector-effect="non-scaling-stroke">i</text><text transform="matrix(0.5782,0,0,1,585.43,372.3)" x="0" y="0" font-size="26.31" font-weight="bold" fill="#5b5b5b" stroke="#5b5b5b" stroke-width="0.600" vector-effect="non-scaling-stroke">g</text><text transform="matrix(0.5793,0,0,1,596.24,372.3)" x="0" y="0" font-size="26.31" font-weight="bold" fill="#5b5b5b" stroke="#5b5b5b" stroke-width="0.600" vector-effect="non-scaling-stroke">h</text><text transform="matrix(0.6034,0,0,1,611.90,372.3)" x="0" y="0" font-size="26.31" font-weight="bold" fill="#5b5b5b" stroke="#5b5b5b" stroke-width="0.600" vector-effect="non-scaling-stroke">A</text><text transform="matrix(0.6701,0,0,1,623.51,372.3)" x="0" y="0" font-size="26.31" font-weight="bold" fill="#5b5b5b" stroke="#5b5b5b" stroke-width="0.600" vector-effect="non-scaling-stroke">c</text><text transform="matrix(0.6775,0,0,1,635.38,372.3)" x="0" y="0" font-size="26.31" font-weight="bold" fill="#5b5b5b" stroke="#5b5b5b" stroke-width="0.600" vector-effect="non-scaling-stroke">t</text><text transform="matrix(0.6787,0,0,1,642.25,372.3)" x="0" y="0" font-size="26.31" font-weight="bold" fill="#5b5b5b" stroke="#5b5b5b" stroke-width="0.600" vector-effect="non-scaling-stroke">i</text><text transform="matrix(0.6869,0,0,1,647.33,372.3)" x="0" y="0" font-size="26.31" font-weight="bold" fill="#5b5b5b" stroke="#5b5b5b" stroke-width="0.600" vector-effect="non-scaling-stroke">v</text><text transform="matrix(0.6926,0,0,1,657.53,372.3)" x="0" y="0" font-size="26.31" font-weight="bold" fill="#5b5b5b" stroke="#5b5b5b" stroke-width="0.600" vector-effect="non-scaling-stroke">i</text><text transform="matrix(0.6836,0,0,1,663.83,372.3)" x="0" y="0" font-size="26.31" font-weight="bold" fill="#5b5b5b" stroke="#5b5b5b" stroke-width="0.600" vector-effect="non-scaling-stroke">t</text><text transform="matrix(0.6930,0,0,1,670.91,372.3)" x="0" y="0" font-size="26.31" font-weight="bold" fill="#5b5b5b" stroke="#5b5b5b" stroke-width="0.600" vector-effect="non-scaling-stroke">y</text>
<path d="M64,396.0 H147 V446.4 H64 A15,15 0 0 1 49,431.4 V411.0 A15,15 0 0 1 64,396.0 Z" fill="#cbcbcb"/><rect x="150.5" y="396.0" width="185.80" height="50.4" fill="#cbcbcb"/><rect x="339.6" y="396.0" width="186.00" height="50.4" fill="#cbcbcb"/><path d="M529.2,396.0 H703 A15,15 0 0 1 718,411.0 V431.4 A15,15 0 0 1 703,446.4 H529.2 Z" fill="#cbcbcb"/><path d="M64,454.8 H147 V505.2 H64 A15,15 0 0 1 49,490.2 V469.8 A15,15 0 0 1 64,454.8 Z" fill="#e6e6e6"/><rect x="150.5" y="454.8" width="185.80" height="50.4" fill="#e6e6e6"/><rect x="339.6" y="454.8" width="186.00" height="50.4" fill="#e6e6e6"/><path d="M529.2,454.8 H703 A15,15 0 0 1 718,469.8 V490.2 A15,15 0 0 1 703,505.2 H529.2 Z" fill="#e6e6e6"/><path d="M64,513.7 H147 V564.1 H64 A15,15 0 0 1 49,549.1 V528.7 A15,15 0 0 1 64,513.7 Z" fill="#cbcbcb"/><rect x="150.5" y="513.7" width="185.80" height="50.4" fill="#cbcbcb"/><rect x="339.6" y="513.7" width="186.00" height="50.4" fill="#cbcbcb"/><path d="M529.2,513.7 H703 A15,15 0 0 1 718,528.7 V549.1 A15,15 0 0 1 703,564.1 H529.2 Z" fill="#cbcbcb"/><path d="M64,572.6 H147 V623.0 H64 A15,15 0 0 1 49,608.0 V587.6 A15,15 0 0 1 64,572.6 Z" fill="#e6e6e6"/><rect x="150.5" y="572.6" width="185.80" height="50.4" fill="#e6e6e6"/><rect x="339.6" y="572.6" width="186.00" height="50.4" fill="#e6e6e6"/><path d="M529.2,572.6 H703 A15,15 0 0 1 718,587.6 V608.0 A15,15 0 0 1 703,623.0 H529.2 Z" fill="#e6e6e6"/><path d="M64,631.4 H147 V681.8 H64 A15,15 0 0 1 49,666.8 V646.4 A15,15 0 0 1 64,631.4 Z" fill="#cbcbcb"/><rect x="150.5" y="631.4" width="185.80" height="50.4" fill="#cbcbcb"/><rect x="339.6" y="631.4" width="186.00" height="50.4" fill="#cbcbcb"/><path d="M529.2,631.4 H703 A15,15 0 0 1 718,646.4 V666.8 A15,15 0 0 1 703,681.8 H529.2 Z" fill="#cbcbcb"/>
<text x="98.30" y="418.90" font-size="20.64" font-weight="bold" fill="#161616" text-anchor="middle" textLength="43.74" lengthAdjust="spacingAndGlyphs">57 lb</text><text x="98.30" y="438.00" font-size="20.64" font-weight="normal" fill="#161616" text-anchor="middle" textLength="59.10" lengthAdjust="spacingAndGlyphs">(26 kg)</text><text x="165.91" y="428.00" font-size="20.64" font-weight="bold" fill="#161616" text-anchor="start" textLength="91.83" lengthAdjust="spacingAndGlyphs">3 1/4 cups</text><text x="263.01" y="428.00" font-size="20.64" font-weight="normal" fill="#161616" text-anchor="start" textLength="57.88" lengthAdjust="spacingAndGlyphs">(281 g)</text><text x="355.11" y="428.00" font-size="20.64" font-weight="bold" fill="#161616" text-anchor="start" textLength="91.83" lengthAdjust="spacingAndGlyphs">4 3/8 cups</text><text x="452.21" y="428.00" font-size="20.64" font-weight="normal" fill="#161616" text-anchor="start" textLength="57.88" lengthAdjust="spacingAndGlyphs">(369 g)</text><text x="561.95" y="428.00" font-size="20.64" font-weight="bold" fill="#161616" text-anchor="start" textLength="60.16" lengthAdjust="spacingAndGlyphs">5 cups</text><text x="627.38" y="428.00" font-size="20.64" font-weight="normal" fill="#161616" text-anchor="start" textLength="57.88" lengthAdjust="spacingAndGlyphs">(428 g)</text><text x="98.30" y="477.70" font-size="20.64" font-weight="bold" fill="#161616" text-anchor="middle" textLength="43.74" lengthAdjust="spacingAndGlyphs">66 lb</text><text x="98.30" y="496.80" font-size="20.64" font-weight="normal" fill="#161616" text-anchor="middle" textLength="59.10" lengthAdjust="spacingAndGlyphs">(30 kg)</text><text x="165.91" y="486.80" font-size="20.64" font-weight="bold" fill="#161616" text-anchor="start" textLength="91.83" lengthAdjust="spacingAndGlyphs">3 5/8 cups</text><text x="263.01" y="486.80" font-size="20.64" font-weight="normal" fill="#161616" text-anchor="start" textLength="57.88" lengthAdjust="spacingAndGlyphs">(312 g)</text><text x="355.11" y="486.80" font-size="20.64" font-weight="bold" fill="#161616" text-anchor="start" textLength="91.83" lengthAdjust="spacingAndGlyphs">4 7/8 cups</text><text x="452.21" y="486.80" font-size="20.64" font-weight="normal" fill="#161616" text-anchor="start" textLength="57.88" lengthAdjust="spacingAndGlyphs">(411 g)</text><text x="546.11" y="486.80" font-size="20.64" font-weight="bold" fill="#161616" text-anchor="start" textLength="91.83" lengthAdjust="spacingAndGlyphs">5 5/8 cups</text><text x="643.21" y="486.80" font-size="20.64" font-weight="normal" fill="#161616" text-anchor="start" textLength="57.88" lengthAdjust="spacingAndGlyphs">(477 g)</text><text x="98.30" y="536.60" font-size="20.64" font-weight="bold" fill="#161616" text-anchor="middle" textLength="43.74" lengthAdjust="spacingAndGlyphs">75 lb</text><text x="98.30" y="555.70" font-size="20.64" font-weight="normal" fill="#161616" text-anchor="middle" textLength="59.10" lengthAdjust="spacingAndGlyphs">(34 kg)</text><text x="181.75" y="545.70" font-size="20.64" font-weight="bold" fill="#161616" text-anchor="start" textLength="60.16" lengthAdjust="spacingAndGlyphs">4 cups</text><text x="247.18" y="545.70" font-size="20.64" font-weight="normal" fill="#161616" text-anchor="start" textLength="57.88" lengthAdjust="spacingAndGlyphs">(343 g)</text><text x="355.11" y="545.70" font-size="20.64" font-weight="bold" fill="#161616" text-anchor="start" textLength="91.83" lengthAdjust="spacingAndGlyphs">5 1/4 cups</text><text x="452.21" y="545.70" font-size="20.64" font-weight="normal" fill="#161616" text-anchor="start" textLength="57.88" lengthAdjust="spacingAndGlyphs">(451 g)</text><text x="546.11" y="545.70" font-size="20.64" font-weight="bold" fill="#161616" text-anchor="start" textLength="91.83" lengthAdjust="spacingAndGlyphs">6 1/8 cups</text><text x="643.21" y="545.70" font-size="20.64" font-weight="normal" fill="#161616" text-anchor="start" textLength="57.88" lengthAdjust="spacingAndGlyphs">(524 g)</text><text x="98.30" y="595.50" font-size="20.64" font-weight="bold" fill="#161616" text-anchor="middle" textLength="43.74" lengthAdjust="spacingAndGlyphs">84 lb</text><text x="98.30" y="614.60" font-size="20.64" font-weight="normal" fill="#161616" text-anchor="middle" textLength="59.10" lengthAdjust="spacingAndGlyphs">(38 kg)</text><text x="165.91" y="604.60" font-size="20.64" font-weight="bold" fill="#161616" text-anchor="start" textLength="91.83" lengthAdjust="spacingAndGlyphs">4 3/8 cups</text><text x="263.01" y="604.60" font-size="20.64" font-weight="normal" fill="#161616" text-anchor="start" textLength="57.88" lengthAdjust="spacingAndGlyphs">(373 g)</text><text x="355.11" y="604.60" font-size="20.64" font-weight="bold" fill="#161616" text-anchor="start" textLength="91.83" lengthAdjust="spacingAndGlyphs">5 3/4 cups</text><text x="452.21" y="604.60" font-size="20.64" font-weight="normal" fill="#161616" text-anchor="start" textLength="57.88" lengthAdjust="spacingAndGlyphs">(491 g)</text><text x="546.11" y="604.60" font-size="20.64" font-weight="bold" fill="#161616" text-anchor="start" textLength="91.83" lengthAdjust="spacingAndGlyphs">6 5/8 cups</text><text x="643.21" y="604.60" font-size="20.64" font-weight="normal" fill="#161616" text-anchor="start" textLength="57.88" lengthAdjust="spacingAndGlyphs">(569 g)</text><text x="98.30" y="654.30" font-size="20.64" font-weight="bold" fill="#161616" text-anchor="middle" textLength="43.74" lengthAdjust="spacingAndGlyphs">97 lb</text><text x="98.30" y="673.40" font-size="20.64" font-weight="normal" fill="#161616" text-anchor="middle" textLength="59.10" lengthAdjust="spacingAndGlyphs">(44 kg)</text><text x="165.91" y="663.40" font-size="20.64" font-weight="bold" fill="#161616" text-anchor="start" textLength="91.83" lengthAdjust="spacingAndGlyphs">4 7/8 cups</text><text x="263.01" y="663.40" font-size="20.64" font-weight="normal" fill="#161616" text-anchor="start" textLength="57.88" lengthAdjust="spacingAndGlyphs">(416 g)</text><text x="355.11" y="663.40" font-size="20.64" font-weight="bold" fill="#161616" text-anchor="start" textLength="91.83" lengthAdjust="spacingAndGlyphs">6 3/8 cups</text><text x="452.21" y="663.40" font-size="20.64" font-weight="normal" fill="#161616" text-anchor="start" textLength="57.88" lengthAdjust="spacingAndGlyphs">(548 g)</text><text x="546.11" y="663.40" font-size="20.64" font-weight="bold" fill="#161616" text-anchor="start" textLength="91.83" lengthAdjust="spacingAndGlyphs">7 1/2 cups</text><text x="643.21" y="663.40" font-size="20.64" font-weight="normal" fill="#161616" text-anchor="start" textLength="57.88" lengthAdjust="spacingAndGlyphs">(635 g)</text><text x="385.00" y="771.00" font-size="12.79" font-weight="bold" fill="#555555" text-anchor="middle" textLength="493.00" lengthAdjust="spacingAndGlyphs">Reference back of bag for additional feeding instructions, including mixed feeding</text>
</svg>
</body></html>
